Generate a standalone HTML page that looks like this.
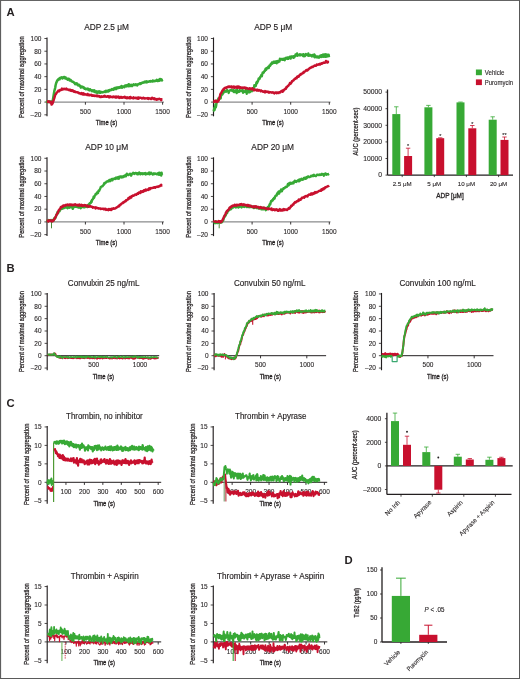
<!DOCTYPE html><html><head><meta charset="utf-8"><style>html,body{margin:0;padding:0;background:#fff;overflow:hidden}svg{display:block;will-change:transform}text{font-family:"Liberation Sans",sans-serif}</style></head><body><svg width="520" height="679" viewBox="0 0 520 679"><rect x="0" y="0" width="520" height="679" fill="#fff"/>
<rect x="0" y="0" width="520" height="1" fill="#646464"/>
<rect x="0" y="0" width="1.1" height="679" fill="#5e5e5e"/>
<rect x="519" y="0" width="1" height="679" fill="#585858"/>
<rect x="0" y="678" width="520" height="1" fill="#5a5a5a"/>
<text x="6.60" y="16.20" font-size="11.3" text-anchor="start" font-weight="bold" fill="#231f20">A</text>
<text x="6.60" y="272.40" font-size="11.3" text-anchor="start" font-weight="bold" fill="#231f20">B</text>
<text x="6.60" y="406.60" font-size="11.3" text-anchor="start" font-weight="bold" fill="#231f20">C</text>
<text x="344.60" y="564.40" font-size="11.3" text-anchor="start" font-weight="bold" fill="#231f20">D</text>
<line x1="47.00" y1="37.50" x2="47.00" y2="116.32" stroke="#231f20" stroke-width="1.15"/>
<line x1="44.40" y1="114.82" x2="47.00" y2="114.82" stroke="#231f20" stroke-width="0.8"/>
<text x="41.40" y="117.12" font-size="6.5" text-anchor="end" font-weight="normal" fill="#231f20" stroke="#231f20" stroke-width="0.1">–20</text>
<line x1="44.40" y1="102.10" x2="47.00" y2="102.10" stroke="#231f20" stroke-width="0.8"/>
<text x="41.40" y="104.40" font-size="6.5" text-anchor="end" font-weight="normal" fill="#231f20" stroke="#231f20" stroke-width="0.1">0</text>
<line x1="44.40" y1="89.38" x2="47.00" y2="89.38" stroke="#231f20" stroke-width="0.8"/>
<text x="41.40" y="91.68" font-size="6.5" text-anchor="end" font-weight="normal" fill="#231f20" stroke="#231f20" stroke-width="0.1">20</text>
<line x1="44.40" y1="76.66" x2="47.00" y2="76.66" stroke="#231f20" stroke-width="0.8"/>
<text x="41.40" y="78.96" font-size="6.5" text-anchor="end" font-weight="normal" fill="#231f20" stroke="#231f20" stroke-width="0.1">40</text>
<line x1="44.40" y1="63.94" x2="47.00" y2="63.94" stroke="#231f20" stroke-width="0.8"/>
<text x="41.40" y="66.24" font-size="6.5" text-anchor="end" font-weight="normal" fill="#231f20" stroke="#231f20" stroke-width="0.1">60</text>
<line x1="44.40" y1="51.22" x2="47.00" y2="51.22" stroke="#231f20" stroke-width="0.8"/>
<text x="41.40" y="53.52" font-size="6.5" text-anchor="end" font-weight="normal" fill="#231f20" stroke="#231f20" stroke-width="0.1">80</text>
<line x1="44.40" y1="38.50" x2="47.00" y2="38.50" stroke="#231f20" stroke-width="0.8"/>
<text x="41.40" y="40.80" font-size="6.5" text-anchor="end" font-weight="normal" fill="#231f20" stroke="#231f20" stroke-width="0.1">100</text>
<line x1="47.00" y1="102.10" x2="164.00" y2="102.10" stroke="#6d6e70" stroke-width="1.0"/>
<line x1="85.40" y1="102.10" x2="85.40" y2="104.70" stroke="#231f20" stroke-width="0.9"/>
<text x="85.40" y="113.80" font-size="6.5" text-anchor="middle" font-weight="normal" fill="#231f20" stroke="#231f20" stroke-width="0.1">500</text>
<line x1="124.00" y1="102.10" x2="124.00" y2="104.70" stroke="#231f20" stroke-width="0.9"/>
<text x="124.00" y="113.80" font-size="6.5" text-anchor="middle" font-weight="normal" fill="#231f20" stroke="#231f20" stroke-width="0.1">1000</text>
<line x1="162.60" y1="102.10" x2="162.60" y2="104.70" stroke="#231f20" stroke-width="0.9"/>
<text x="162.60" y="113.80" font-size="6.5" text-anchor="middle" font-weight="normal" fill="#231f20" stroke="#231f20" stroke-width="0.1">1500</text>
<text x="106.60" y="29.90" font-size="8.2" text-anchor="middle" font-weight="normal" fill="#231f20" stroke="#231f20" stroke-width="0.15" textLength="44.8" lengthAdjust="spacingAndGlyphs">ADP 2.5 μM</text>
<text x="24.40" y="77.16" font-size="7.2" text-anchor="middle" font-weight="normal" fill="#231f20" stroke="#231f20" stroke-width="0.28" textLength="81.5" lengthAdjust="spacingAndGlyphs" transform="rotate(-90 24.4 77.16)">Percent of maximal aggregation</text>
<text x="106.50" y="125.10" font-size="8.0" text-anchor="middle" font-weight="normal" fill="#231f20" stroke="#231f20" stroke-width="0.35" textLength="21.3" lengthAdjust="spacingAndGlyphs">Time (s)</text>
<line x1="213.50" y1="37.50" x2="213.50" y2="116.32" stroke="#231f20" stroke-width="1.15"/>
<line x1="210.90" y1="114.82" x2="213.50" y2="114.82" stroke="#231f20" stroke-width="0.8"/>
<text x="207.90" y="117.12" font-size="6.5" text-anchor="end" font-weight="normal" fill="#231f20" stroke="#231f20" stroke-width="0.1">–20</text>
<line x1="210.90" y1="102.10" x2="213.50" y2="102.10" stroke="#231f20" stroke-width="0.8"/>
<text x="207.90" y="104.40" font-size="6.5" text-anchor="end" font-weight="normal" fill="#231f20" stroke="#231f20" stroke-width="0.1">0</text>
<line x1="210.90" y1="89.38" x2="213.50" y2="89.38" stroke="#231f20" stroke-width="0.8"/>
<text x="207.90" y="91.68" font-size="6.5" text-anchor="end" font-weight="normal" fill="#231f20" stroke="#231f20" stroke-width="0.1">20</text>
<line x1="210.90" y1="76.66" x2="213.50" y2="76.66" stroke="#231f20" stroke-width="0.8"/>
<text x="207.90" y="78.96" font-size="6.5" text-anchor="end" font-weight="normal" fill="#231f20" stroke="#231f20" stroke-width="0.1">40</text>
<line x1="210.90" y1="63.94" x2="213.50" y2="63.94" stroke="#231f20" stroke-width="0.8"/>
<text x="207.90" y="66.24" font-size="6.5" text-anchor="end" font-weight="normal" fill="#231f20" stroke="#231f20" stroke-width="0.1">60</text>
<line x1="210.90" y1="51.22" x2="213.50" y2="51.22" stroke="#231f20" stroke-width="0.8"/>
<text x="207.90" y="53.52" font-size="6.5" text-anchor="end" font-weight="normal" fill="#231f20" stroke="#231f20" stroke-width="0.1">80</text>
<line x1="210.90" y1="38.50" x2="213.50" y2="38.50" stroke="#231f20" stroke-width="0.8"/>
<text x="207.90" y="40.80" font-size="6.5" text-anchor="end" font-weight="normal" fill="#231f20" stroke="#231f20" stroke-width="0.1">100</text>
<line x1="213.50" y1="102.10" x2="330.50" y2="102.10" stroke="#6d6e70" stroke-width="1.0"/>
<line x1="252.10" y1="102.10" x2="252.10" y2="104.70" stroke="#231f20" stroke-width="0.9"/>
<text x="252.10" y="113.80" font-size="6.5" text-anchor="middle" font-weight="normal" fill="#231f20" stroke="#231f20" stroke-width="0.1">500</text>
<line x1="290.70" y1="102.10" x2="290.70" y2="104.70" stroke="#231f20" stroke-width="0.9"/>
<text x="290.70" y="113.80" font-size="6.5" text-anchor="middle" font-weight="normal" fill="#231f20" stroke="#231f20" stroke-width="0.1">1000</text>
<line x1="329.30" y1="102.10" x2="329.30" y2="104.70" stroke="#231f20" stroke-width="0.9"/>
<text x="329.30" y="113.80" font-size="6.5" text-anchor="middle" font-weight="normal" fill="#231f20" stroke="#231f20" stroke-width="0.1">1500</text>
<text x="273.20" y="29.90" font-size="8.2" text-anchor="middle" font-weight="normal" fill="#231f20" stroke="#231f20" stroke-width="0.15" textLength="38.1" lengthAdjust="spacingAndGlyphs">ADP 5 μM</text>
<text x="190.90" y="77.16" font-size="7.2" text-anchor="middle" font-weight="normal" fill="#231f20" stroke="#231f20" stroke-width="0.28" textLength="81.5" lengthAdjust="spacingAndGlyphs" transform="rotate(-90 190.9 77.16)">Percent of maximal aggregation</text>
<text x="273.00" y="125.10" font-size="8.0" text-anchor="middle" font-weight="normal" fill="#231f20" stroke="#231f20" stroke-width="0.35" textLength="21.3" lengthAdjust="spacingAndGlyphs">Time (s)</text>
<line x1="47.00" y1="157.30" x2="47.00" y2="236.12" stroke="#231f20" stroke-width="1.15"/>
<line x1="44.40" y1="234.62" x2="47.00" y2="234.62" stroke="#231f20" stroke-width="0.8"/>
<text x="41.40" y="236.92" font-size="6.5" text-anchor="end" font-weight="normal" fill="#231f20" stroke="#231f20" stroke-width="0.1">–20</text>
<line x1="44.40" y1="221.90" x2="47.00" y2="221.90" stroke="#231f20" stroke-width="0.8"/>
<text x="41.40" y="224.20" font-size="6.5" text-anchor="end" font-weight="normal" fill="#231f20" stroke="#231f20" stroke-width="0.1">0</text>
<line x1="44.40" y1="209.18" x2="47.00" y2="209.18" stroke="#231f20" stroke-width="0.8"/>
<text x="41.40" y="211.48" font-size="6.5" text-anchor="end" font-weight="normal" fill="#231f20" stroke="#231f20" stroke-width="0.1">20</text>
<line x1="44.40" y1="196.46" x2="47.00" y2="196.46" stroke="#231f20" stroke-width="0.8"/>
<text x="41.40" y="198.76" font-size="6.5" text-anchor="end" font-weight="normal" fill="#231f20" stroke="#231f20" stroke-width="0.1">40</text>
<line x1="44.40" y1="183.74" x2="47.00" y2="183.74" stroke="#231f20" stroke-width="0.8"/>
<text x="41.40" y="186.04" font-size="6.5" text-anchor="end" font-weight="normal" fill="#231f20" stroke="#231f20" stroke-width="0.1">60</text>
<line x1="44.40" y1="171.02" x2="47.00" y2="171.02" stroke="#231f20" stroke-width="0.8"/>
<text x="41.40" y="173.32" font-size="6.5" text-anchor="end" font-weight="normal" fill="#231f20" stroke="#231f20" stroke-width="0.1">80</text>
<line x1="44.40" y1="158.30" x2="47.00" y2="158.30" stroke="#231f20" stroke-width="0.8"/>
<text x="41.40" y="160.60" font-size="6.5" text-anchor="end" font-weight="normal" fill="#231f20" stroke="#231f20" stroke-width="0.1">100</text>
<line x1="47.00" y1="221.90" x2="164.00" y2="221.90" stroke="#6d6e70" stroke-width="1.0"/>
<line x1="85.40" y1="221.90" x2="85.40" y2="224.50" stroke="#231f20" stroke-width="0.9"/>
<text x="85.40" y="233.60" font-size="6.5" text-anchor="middle" font-weight="normal" fill="#231f20" stroke="#231f20" stroke-width="0.1">500</text>
<line x1="124.00" y1="221.90" x2="124.00" y2="224.50" stroke="#231f20" stroke-width="0.9"/>
<text x="124.00" y="233.60" font-size="6.5" text-anchor="middle" font-weight="normal" fill="#231f20" stroke="#231f20" stroke-width="0.1">1000</text>
<line x1="162.60" y1="221.90" x2="162.60" y2="224.50" stroke="#231f20" stroke-width="0.9"/>
<text x="162.60" y="233.60" font-size="6.5" text-anchor="middle" font-weight="normal" fill="#231f20" stroke="#231f20" stroke-width="0.1">1500</text>
<text x="106.70" y="149.90" font-size="8.2" text-anchor="middle" font-weight="normal" fill="#231f20" stroke="#231f20" stroke-width="0.15" textLength="42.9" lengthAdjust="spacingAndGlyphs">ADP 10 μM</text>
<text x="24.40" y="196.96" font-size="7.2" text-anchor="middle" font-weight="normal" fill="#231f20" stroke="#231f20" stroke-width="0.28" textLength="81.5" lengthAdjust="spacingAndGlyphs" transform="rotate(-90 24.4 196.96)">Percent of maximal aggregation</text>
<text x="106.50" y="244.90" font-size="8.0" text-anchor="middle" font-weight="normal" fill="#231f20" stroke="#231f20" stroke-width="0.35" textLength="21.3" lengthAdjust="spacingAndGlyphs">Time (s)</text>
<line x1="213.50" y1="157.30" x2="213.50" y2="236.12" stroke="#231f20" stroke-width="1.15"/>
<line x1="210.90" y1="234.62" x2="213.50" y2="234.62" stroke="#231f20" stroke-width="0.8"/>
<text x="207.90" y="236.92" font-size="6.5" text-anchor="end" font-weight="normal" fill="#231f20" stroke="#231f20" stroke-width="0.1">–20</text>
<line x1="210.90" y1="221.90" x2="213.50" y2="221.90" stroke="#231f20" stroke-width="0.8"/>
<text x="207.90" y="224.20" font-size="6.5" text-anchor="end" font-weight="normal" fill="#231f20" stroke="#231f20" stroke-width="0.1">0</text>
<line x1="210.90" y1="209.18" x2="213.50" y2="209.18" stroke="#231f20" stroke-width="0.8"/>
<text x="207.90" y="211.48" font-size="6.5" text-anchor="end" font-weight="normal" fill="#231f20" stroke="#231f20" stroke-width="0.1">20</text>
<line x1="210.90" y1="196.46" x2="213.50" y2="196.46" stroke="#231f20" stroke-width="0.8"/>
<text x="207.90" y="198.76" font-size="6.5" text-anchor="end" font-weight="normal" fill="#231f20" stroke="#231f20" stroke-width="0.1">40</text>
<line x1="210.90" y1="183.74" x2="213.50" y2="183.74" stroke="#231f20" stroke-width="0.8"/>
<text x="207.90" y="186.04" font-size="6.5" text-anchor="end" font-weight="normal" fill="#231f20" stroke="#231f20" stroke-width="0.1">60</text>
<line x1="210.90" y1="171.02" x2="213.50" y2="171.02" stroke="#231f20" stroke-width="0.8"/>
<text x="207.90" y="173.32" font-size="6.5" text-anchor="end" font-weight="normal" fill="#231f20" stroke="#231f20" stroke-width="0.1">80</text>
<line x1="210.90" y1="158.30" x2="213.50" y2="158.30" stroke="#231f20" stroke-width="0.8"/>
<text x="207.90" y="160.60" font-size="6.5" text-anchor="end" font-weight="normal" fill="#231f20" stroke="#231f20" stroke-width="0.1">100</text>
<line x1="213.50" y1="221.90" x2="330.50" y2="221.90" stroke="#6d6e70" stroke-width="1.0"/>
<line x1="252.10" y1="221.90" x2="252.10" y2="224.50" stroke="#231f20" stroke-width="0.9"/>
<text x="252.10" y="233.60" font-size="6.5" text-anchor="middle" font-weight="normal" fill="#231f20" stroke="#231f20" stroke-width="0.1">500</text>
<line x1="290.70" y1="221.90" x2="290.70" y2="224.50" stroke="#231f20" stroke-width="0.9"/>
<text x="290.70" y="233.60" font-size="6.5" text-anchor="middle" font-weight="normal" fill="#231f20" stroke="#231f20" stroke-width="0.1">1000</text>
<line x1="329.30" y1="221.90" x2="329.30" y2="224.50" stroke="#231f20" stroke-width="0.9"/>
<text x="329.30" y="233.60" font-size="6.5" text-anchor="middle" font-weight="normal" fill="#231f20" stroke="#231f20" stroke-width="0.1">1500</text>
<text x="272.70" y="149.90" font-size="8.2" text-anchor="middle" font-weight="normal" fill="#231f20" stroke="#231f20" stroke-width="0.15" textLength="42.7" lengthAdjust="spacingAndGlyphs">ADP 20 μM</text>
<text x="190.90" y="196.96" font-size="7.2" text-anchor="middle" font-weight="normal" fill="#231f20" stroke="#231f20" stroke-width="0.28" textLength="81.5" lengthAdjust="spacingAndGlyphs" transform="rotate(-90 190.9 196.96)">Percent of maximal aggregation</text>
<text x="273.00" y="244.90" font-size="8.0" text-anchor="middle" font-weight="normal" fill="#231f20" stroke="#231f20" stroke-width="0.35" textLength="21.3" lengthAdjust="spacingAndGlyphs">Time (s)</text>
<polyline points="46.8,100.6 47.2,102.2 47.6,102.0 48.0,102.0 48.4,102.0 48.8,101.7 49.2,101.6 49.6,101.4 50.0,101.5 50.4,101.6 50.8,102.3 51.2,101.8 51.6,101.6 52.0,101.4 52.4,100.9 52.8,100.5 53.2,97.9 53.6,95.5 54.0,92.9 54.4,90.7 54.8,89.3 55.2,87.8 55.6,85.3 56.0,83.7 56.4,82.3 56.8,81.8 57.2,80.4 57.6,80.4 58.0,79.5 58.4,79.8 58.8,78.7 59.2,79.1 59.6,79.2 60.0,78.1 60.4,77.8 60.8,78.0 61.2,77.8 61.6,77.3 62.0,77.8 62.4,78.5 62.8,77.4 63.2,77.5 63.6,77.1 64.0,77.6 64.4,77.0 64.8,77.1 65.2,78.4 65.6,77.5 66.0,78.5 66.4,78.8 66.8,78.5 67.2,78.9 67.6,79.7 68.0,78.8 68.4,78.8 68.8,78.7 69.2,79.6 69.6,80.4 70.0,80.4 70.4,79.8 70.8,80.2 71.2,80.6 71.6,81.3 72.0,81.3 72.4,81.8 72.8,81.9 73.2,81.8 73.6,82.2 74.0,82.7 74.4,82.8 74.8,83.4 75.2,84.2 75.6,83.9 76.0,83.8 76.4,83.2 76.8,84.3 77.2,83.6 77.6,84.2 78.0,85.3 78.4,85.5 78.8,85.3 79.2,84.9 79.6,85.7 80.0,85.8 80.4,86.6 80.8,87.6 81.2,86.9 81.6,86.5 82.0,86.5 82.4,87.2 82.8,87.3 83.2,87.1 83.6,87.8 84.0,87.5 84.4,88.6 84.8,88.8 85.2,89.0 85.6,88.6 86.0,89.2 86.4,89.1 86.8,89.0 87.2,89.1 87.6,88.6 88.0,88.7 88.4,89.9 88.8,89.7 89.2,89.9 89.6,90.3 90.0,89.2 90.4,89.8 90.8,90.3 91.2,90.5 91.6,90.3 92.0,91.1 92.4,90.9 92.8,90.3 93.2,90.6 93.6,91.4 94.0,91.3 94.4,90.3 94.8,91.9 95.2,91.7 95.6,92.2 96.0,91.6 96.4,91.6 96.8,91.4 97.2,93.0 97.6,92.0 98.0,92.7 98.4,91.9 98.8,92.2 99.2,91.4 99.6,92.1 100.0,92.8 100.4,91.7 100.8,92.7 101.2,92.5 101.6,92.0 102.0,92.3 102.4,92.2 102.8,92.4 103.2,92.0 103.6,91.9 104.0,92.1 104.4,91.8 104.8,91.4 105.2,91.9 105.6,92.0 106.0,90.9 106.4,91.5 106.8,91.1 107.2,90.9 107.6,91.5 108.0,90.7 108.4,91.5 108.8,90.4 109.2,90.8 109.6,90.2 110.0,89.8 110.4,90.3 110.8,89.9 111.2,90.0 111.6,89.6 112.0,89.0 112.4,89.5 112.8,89.4 113.2,89.7 113.6,88.7 114.0,88.9 114.4,88.1 114.8,89.1 115.2,88.2 115.6,87.7 116.0,88.5 116.4,89.0 116.8,87.6 117.2,87.6 117.6,87.6 118.0,87.4 118.4,88.0 118.8,87.4 119.2,87.3 119.6,87.8 120.0,87.0 120.4,87.5 120.8,86.7 121.2,86.4 121.6,86.0 122.0,87.7 122.4,86.8 122.8,86.9 123.2,86.6 123.6,86.5 124.0,86.4 124.4,87.2 124.8,85.7 125.2,85.4 125.6,85.6 126.0,85.4 126.4,86.4 126.8,86.3 127.2,85.5 127.6,85.1 128.0,85.4 128.4,86.1 128.8,84.3 129.2,85.9 129.6,85.2 130.0,86.1 130.4,85.0 130.8,85.3 131.2,84.7 131.6,85.1 132.0,86.1 132.4,85.7 132.8,85.0 133.2,84.8 133.6,84.3 134.0,85.0 134.4,85.1 134.8,85.0 135.2,85.0 135.6,84.4 136.0,84.8 136.4,84.6 136.8,85.2 137.2,85.4 137.6,84.5 138.0,84.2 138.4,84.3 138.8,84.0 139.2,83.7 139.6,83.9 140.0,83.2 140.4,83.9 140.8,83.4 141.2,83.5 141.6,83.1 142.0,82.8 142.4,82.6 142.8,82.8 143.2,82.4 143.6,82.6 144.0,82.5 144.4,81.7 144.8,82.3 145.2,81.7 145.6,82.1 146.0,82.2 146.4,81.4 146.8,82.4 147.2,82.1 147.6,81.8 148.0,81.6 148.4,81.7 148.8,81.4 149.2,81.6 149.6,81.3 150.0,81.6 150.4,81.0 150.8,81.5 151.2,81.4 151.6,81.2 152.0,81.1 152.4,81.5 152.8,80.5 153.2,81.3 153.6,81.2 154.0,81.2 154.4,81.2 154.8,80.7 155.2,80.7 155.6,81.0 156.0,80.8 156.4,80.7 156.8,79.9 157.2,80.9 157.6,81.1 158.0,81.0 158.4,80.5 158.8,79.7 159.2,80.8 159.6,80.2 160.0,79.0 160.4,80.2 160.8,79.3 161.2,79.3 161.6,79.6 162.0,80.4 162.4,79.7" fill="none" stroke="#37a935" stroke-width="2.5" stroke-linejoin="round" opacity="1.0"/>
<polyline points="46.8,101.5 47.2,101.5 47.6,101.9 48.0,101.6 48.4,101.9 48.8,101.3 49.2,102.0 49.6,102.3 50.0,101.8 50.4,101.6 50.8,101.6 51.2,103.1 51.6,104.6 52.0,104.3 52.4,103.7 52.8,102.9 53.2,101.4 53.6,100.5 54.0,99.0 54.4,97.8 54.8,96.4 55.2,94.9 55.6,94.4 56.0,94.1 56.4,92.9 56.8,92.6 57.2,92.4 57.6,91.4 58.0,91.5 58.4,90.6 58.8,91.0 59.2,91.2 59.6,90.9 60.0,89.9 60.4,90.2 60.8,89.8 61.2,89.6 61.6,89.9 62.0,88.6 62.4,89.4 62.8,88.9 63.2,89.4 63.6,89.0 64.0,88.7 64.4,89.1 64.8,89.3 65.2,89.0 65.6,89.2 66.0,88.9 66.4,88.5 66.8,89.6 67.2,89.6 67.6,89.4 68.0,89.6 68.4,90.0 68.8,89.7 69.2,89.6 69.6,89.8 70.0,90.4 70.4,89.7 70.8,90.7 71.2,90.2 71.6,90.2 72.0,91.1 72.4,90.7 72.8,90.3 73.2,90.9 73.6,91.4 74.0,91.7 74.4,91.2 74.8,91.7 75.2,92.0 75.6,91.7 76.0,92.2 76.4,92.1 76.8,92.1 77.2,92.2 77.6,92.6 78.0,92.7 78.4,92.5 78.8,92.7 79.2,93.4 79.6,93.1 80.0,93.3 80.4,93.4 80.8,93.4 81.2,94.1 81.6,93.1 82.0,93.8 82.4,93.6 82.8,94.5 83.2,94.5 83.6,93.3 84.0,93.8 84.4,94.5 84.8,94.6 85.2,94.6 85.6,94.3 86.0,94.6 86.4,94.7 86.8,94.5 87.2,95.0 87.6,93.9 88.0,95.0 88.4,94.6 88.8,95.2 89.2,94.9 89.6,94.7 90.0,95.3 90.4,94.9 90.8,94.9 91.2,94.7 91.6,95.4 92.0,95.7 92.4,95.7 92.8,95.3 93.2,95.7 93.6,95.5 94.0,95.5 94.4,95.8 94.8,96.1 95.2,95.7 95.6,95.7 96.0,95.7 96.4,96.0 96.8,95.6 97.2,96.3 97.6,95.8 98.0,96.2 98.4,95.9 98.8,96.4 99.2,96.5 99.6,96.1 100.0,97.0 100.4,96.5 100.8,97.1 101.2,96.9 101.6,96.3 102.0,96.4 102.4,96.8 102.8,96.6 103.2,96.8 103.6,96.6 104.0,96.0 104.4,96.5 104.8,95.7 105.2,96.7 105.6,96.4 106.0,96.6 106.4,96.8 106.8,96.9 107.2,96.3 107.6,96.2 108.0,96.5 108.4,96.2 108.8,96.5 109.2,97.4 109.6,96.4 110.0,97.1 110.4,96.4 110.8,97.0 111.2,96.8 111.6,96.9 112.0,97.1 112.4,97.3 112.8,96.7 113.2,96.8 113.6,96.5 114.0,97.1 114.4,96.8 114.8,97.2 115.2,97.0 115.6,97.6 116.0,96.4 116.4,97.0 116.8,97.5 117.2,97.1 117.6,96.8 118.0,97.0 118.4,96.6 118.8,97.2 119.2,98.0 119.6,97.7 120.0,96.9 120.4,97.0 120.8,97.2 121.2,97.7 121.6,97.0 122.0,97.1 122.4,97.7 122.8,97.8 123.2,97.3 123.6,97.2 124.0,97.0 124.4,97.4 124.8,96.8 125.2,97.8 125.6,97.3 126.0,97.8 126.4,98.3 126.8,98.1 127.2,97.3 127.6,98.0 128.0,98.2 128.4,97.6 128.8,97.6 129.2,97.9 129.6,97.3 130.0,98.4 130.4,97.0 130.8,97.3 131.2,97.7 131.6,97.8 132.0,98.1 132.4,98.1 132.8,98.0 133.2,98.4 133.6,97.3 134.0,98.1 134.4,97.8 134.8,98.1 135.2,98.0 135.6,97.7 136.0,97.7 136.4,98.3 136.8,98.1 137.2,97.7 137.6,98.7 138.0,98.8 138.4,97.4 138.8,97.8 139.2,98.3 139.6,97.7 140.0,97.7 140.4,97.7 140.8,97.8 141.2,98.0 141.6,98.0 142.0,98.5 142.4,98.1 142.8,98.1 143.2,97.8 143.6,98.3 144.0,97.9 144.4,98.2 144.8,98.6 145.2,98.4 145.6,98.3 146.0,98.3 146.4,98.3 146.8,98.4 147.2,98.3 147.6,98.7 148.0,98.0 148.4,98.9 148.8,98.5 149.2,98.2 149.6,98.4 150.0,98.4 150.4,98.7 150.8,98.4 151.2,99.0 151.6,98.3 152.0,97.8 152.4,98.4 152.8,98.0 153.2,98.6 153.6,99.0 154.0,98.9 154.4,98.3 154.8,98.5 155.2,99.5 155.6,99.1 156.0,98.9 156.4,99.2 156.8,99.7 157.2,99.4 157.6,99.0 158.0,99.2 158.4,99.3 158.8,98.8 159.2,98.7 159.6,99.1 160.0,98.9 160.4,99.3 160.8,99.3 161.2,100.2 161.6,99.2 162.0,99.5 162.4,99.5" fill="none" stroke="#c8102e" stroke-width="2.4" stroke-linejoin="round" opacity="1.0"/>
<polyline points="213.5,109.3 213.9,110.6 214.3,107.7 214.7,109.9 215.1,107.2 215.5,104.1 215.9,107.3 216.3,105.1 216.7,101.8 217.1,101.9 217.5,100.8 217.9,100.4 218.3,98.4 218.7,98.7 219.1,99.2 219.5,98.3 219.9,98.6 220.3,97.1 220.7,98.5 221.1,95.1 221.5,95.4 221.9,92.9 222.3,92.8 222.7,94.4 223.1,92.1 223.5,93.0 223.9,92.3 224.3,91.2 224.7,91.6 225.1,91.1 225.5,90.9 225.9,91.9 226.3,91.6 226.7,90.5 227.1,90.0 227.5,90.9 227.9,90.6 228.3,91.6 228.7,93.0 229.1,91.5 229.5,90.7 229.9,90.7 230.3,90.0 230.7,90.1 231.1,90.0 231.5,90.5 231.9,90.2 232.3,91.1 232.7,90.1 233.1,90.3 233.5,89.6 233.9,92.0 234.3,91.0 234.7,92.0 235.1,91.0 235.5,91.6 235.9,90.3 236.3,91.3 236.7,93.2 237.1,89.8 237.5,91.7 237.9,92.1 238.3,91.1 238.7,91.5 239.1,91.9 239.5,90.2 239.9,91.3 240.3,90.4 240.7,90.5 241.1,90.5 241.5,90.9 241.9,91.1 242.3,91.4 242.7,89.8 243.1,92.8 243.5,92.3 243.9,92.1 244.3,91.2 244.7,91.4 245.1,91.8 245.5,91.7 245.9,89.9 246.3,92.0 246.7,93.8 247.1,89.5 247.5,92.0 247.9,91.4 248.3,90.9 248.7,92.4 249.1,90.2 249.5,91.4 249.9,92.3 250.3,90.7 250.7,90.3 251.1,90.6 251.5,89.9 251.9,91.3 252.3,88.9 252.7,90.1 253.1,88.0 253.5,89.2 253.9,88.0 254.3,85.2 254.7,86.8 255.1,85.2 255.5,85.0 255.9,85.9 256.3,82.7 256.7,81.9 257.1,83.4 257.5,81.2 257.9,81.7 258.3,79.9 258.7,78.4 259.1,78.5 259.5,79.0 259.9,78.1 260.3,76.6 260.7,76.1 261.1,75.5 261.5,74.7 261.9,76.3 262.3,74.0 262.7,72.4 263.1,72.4 263.5,72.9 263.9,72.3 264.3,71.2 264.7,70.4 265.1,70.7 265.5,68.8 265.9,68.4 266.3,69.8 266.7,68.0 267.1,68.3 267.5,68.4 267.9,67.5 268.3,66.6 268.7,68.2 269.1,66.7 269.5,65.4 269.9,66.1 270.3,65.5 270.7,64.0 271.1,64.6 271.5,64.1 271.9,62.5 272.3,63.7 272.7,63.4 273.1,63.0 273.5,61.7 273.9,62.8 274.3,62.8 274.7,62.9 275.1,61.5 275.5,62.9 275.9,61.3 276.3,62.1 276.7,63.3 277.1,61.1 277.5,61.0 277.9,62.3 278.3,61.1 278.7,60.9 279.1,61.1 279.5,61.6 279.9,58.7 280.3,60.0 280.7,59.6 281.1,59.2 281.5,59.1 281.9,58.9 282.3,59.9 282.7,58.9 283.1,59.6 283.5,59.8 283.9,58.6 284.3,59.3 284.7,60.3 285.1,59.0 285.5,58.0 285.9,58.5 286.3,57.7 286.7,58.6 287.1,59.0 287.5,57.4 287.9,57.9 288.3,58.9 288.7,57.4 289.1,57.9 289.5,56.8 289.9,56.7 290.3,56.8 290.7,58.7 291.1,56.5 291.5,56.3 291.9,56.3 292.3,56.4 292.7,57.0 293.1,56.4 293.5,57.9 293.9,56.2 294.3,57.4 294.7,56.2 295.1,56.3 295.5,54.4 295.9,55.5 296.3,55.5 296.7,55.1 297.1,53.3 297.5,55.9 297.9,54.7 298.3,54.7 298.7,54.9 299.1,55.0 299.5,55.4 299.9,54.1 300.3,54.5 300.7,55.4 301.1,55.1 301.5,54.8 301.9,54.5 302.3,54.5 302.7,54.9 303.1,56.1 303.5,54.1 303.9,56.4 304.3,56.0 304.7,55.0 305.1,56.1 305.5,54.3 305.9,54.0 306.3,54.3 306.7,54.8 307.1,55.1 307.5,55.0 307.9,55.5 308.3,53.5 308.7,55.9 309.1,54.5 309.5,55.3 309.9,55.7 310.3,55.1 310.7,54.9 311.1,55.2 311.5,56.0 311.9,56.5 312.3,56.3 312.7,54.9 313.1,55.1 313.5,55.1 313.9,56.5 314.3,54.4 314.7,57.3 315.1,55.9 315.5,55.6 315.9,56.8 316.3,57.3 316.7,56.6 317.1,57.2 317.5,56.4 317.9,57.6 318.3,57.6 318.7,56.6 319.1,57.7 319.5,56.4 319.9,56.2 320.3,55.5 320.7,56.1 321.1,57.1 321.5,55.2 321.9,56.9 322.3,56.5 322.7,56.5 323.1,54.4 323.5,56.2 323.9,56.9 324.3,55.7 324.7,56.5 325.1,54.2 325.5,56.8 325.9,55.5 326.3,56.7 326.7,54.3 327.1,56.5 327.5,55.8 327.9,56.4 328.3,54.7 328.7,54.7 329.1,57.2" fill="none" stroke="#37a935" stroke-width="2.3" stroke-linejoin="round" opacity="1.0"/>
<polyline points="213.5,101.7 213.9,101.9 214.3,101.0 214.7,100.9 215.1,101.4 215.5,101.0 215.9,100.5 216.3,101.7 216.7,101.4 217.1,101.0 217.5,101.9 217.9,101.3 218.3,101.0 218.7,100.6 219.1,98.9 219.5,97.3 219.9,96.1 220.3,94.3 220.7,93.5 221.1,93.4 221.5,92.4 221.9,91.5 222.3,90.7 222.7,90.1 223.1,90.0 223.5,89.0 223.9,89.4 224.3,88.2 224.7,88.2 225.1,87.6 225.5,87.7 225.9,87.9 226.3,88.1 226.7,87.2 227.1,87.3 227.5,87.0 227.9,86.7 228.3,86.6 228.7,87.1 229.1,86.4 229.5,87.0 229.9,86.9 230.3,86.7 230.7,86.6 231.1,86.5 231.5,87.6 231.9,86.6 232.3,87.6 232.7,87.2 233.1,86.8 233.5,86.6 233.9,87.4 234.3,87.7 234.7,86.7 235.1,86.8 235.5,87.4 235.9,87.1 236.3,87.7 236.7,86.8 237.1,87.2 237.5,86.6 237.9,87.8 238.3,86.8 238.7,86.4 239.1,87.1 239.5,87.2 239.9,87.9 240.3,87.2 240.7,87.3 241.1,87.7 241.5,88.0 241.9,87.5 242.3,88.0 242.7,87.8 243.1,87.5 243.5,87.7 243.9,87.7 244.3,87.4 244.7,88.3 245.1,87.5 245.5,88.5 245.9,88.4 246.3,88.1 246.7,87.9 247.1,88.2 247.5,88.5 247.9,88.7 248.3,88.6 248.7,88.9 249.1,88.5 249.5,88.8 249.9,88.3 250.3,89.1 250.7,88.9 251.1,88.8 251.5,89.4 251.9,89.4 252.3,88.2 252.7,89.3 253.1,88.9 253.5,89.8 253.9,90.4 254.3,89.4 254.7,89.6 255.1,89.5 255.5,89.7 255.9,90.0 256.3,90.4 256.7,89.7 257.1,90.6 257.5,89.7 257.9,90.3 258.3,90.7 258.7,90.6 259.1,90.1 259.5,90.3 259.9,90.5 260.3,90.7 260.7,91.2 261.1,90.4 261.5,91.1 261.9,91.2 262.3,91.3 262.7,91.3 263.1,91.8 263.5,91.5 263.9,91.7 264.3,91.7 264.7,92.2 265.1,91.1 265.5,92.3 265.9,91.7 266.3,91.7 266.7,91.5 267.1,91.4 267.5,91.9 267.9,91.9 268.3,92.3 268.7,91.7 269.1,92.7 269.5,92.5 269.9,92.3 270.3,92.3 270.7,92.3 271.1,92.3 271.5,92.5 271.9,92.7 272.3,92.6 272.7,92.3 273.1,92.7 273.5,92.5 273.9,92.8 274.3,93.5 274.7,93.1 275.1,92.8 275.5,92.4 275.9,92.5 276.3,92.4 276.7,93.2 277.1,92.6 277.5,92.9 277.9,92.5 278.3,92.8 278.7,93.1 279.1,92.3 279.5,92.3 279.9,92.0 280.3,92.4 280.7,91.6 281.1,91.4 281.5,91.0 281.9,90.8 282.3,91.2 282.7,91.8 283.1,90.3 283.5,90.8 283.9,90.2 284.3,89.5 284.7,89.4 285.1,89.0 285.5,88.4 285.9,88.9 286.3,87.2 286.7,87.5 287.1,87.1 287.5,86.2 287.9,86.1 288.3,85.8 288.7,85.1 289.1,84.7 289.5,84.3 289.9,83.0 290.3,83.9 290.7,83.7 291.1,82.9 291.5,82.5 291.9,81.3 292.3,81.4 292.7,80.8 293.1,80.5 293.5,80.6 293.9,79.7 294.3,79.6 294.7,78.7 295.1,78.9 295.5,78.7 295.9,78.0 296.3,77.7 296.7,78.2 297.1,76.8 297.5,76.5 297.9,76.3 298.3,76.7 298.7,76.7 299.1,75.8 299.5,75.1 299.9,74.8 300.3,75.0 300.7,74.0 301.1,74.5 301.5,74.3 301.9,73.5 302.3,73.3 302.7,73.1 303.1,73.2 303.5,72.1 303.9,72.6 304.3,71.8 304.7,71.4 305.1,71.5 305.5,71.1 305.9,70.5 306.3,70.0 306.7,70.0 307.1,70.6 307.5,70.4 307.9,69.7 308.3,69.7 308.7,68.9 309.1,68.7 309.5,68.6 309.9,67.9 310.3,67.8 310.7,67.9 311.1,67.5 311.5,66.9 311.9,67.2 312.3,66.8 312.7,67.1 313.1,66.7 313.5,66.3 313.9,66.3 314.3,65.8 314.7,65.5 315.1,65.5 315.5,65.9 315.9,65.7 316.3,65.7 316.7,64.6 317.1,64.9 317.5,64.7 317.9,64.7 318.3,64.4 318.7,64.2 319.1,64.5 319.5,64.2 319.9,63.7 320.3,64.4 320.7,64.1 321.1,63.5 321.5,63.8 321.9,63.2 322.3,63.6 322.7,63.0 323.1,62.8 323.5,62.8 323.9,62.5 324.3,62.7 324.7,62.7 325.1,62.7 325.5,62.3 325.9,61.0 326.3,62.2 326.7,61.4 327.1,62.2 327.5,62.5 327.9,62.2 328.3,61.8 328.7,61.9 329.1,61.9" fill="none" stroke="#c8102e" stroke-width="2.4" stroke-linejoin="round" opacity="1.0"/>
<polyline points="46.8,221.2 47.2,220.7 47.6,221.1 48.0,220.9 48.4,221.2 48.8,220.1 49.2,220.9 49.6,220.8 50.0,220.2 50.4,220.9 50.8,220.8 51.2,220.6 51.6,221.2 52.0,220.1 52.4,220.8 52.8,221.0 53.2,220.9 53.6,220.7 54.0,218.7 54.4,218.0 54.8,218.2 55.2,217.7 55.6,217.7 56.0,216.2 56.4,214.6 56.8,214.8 57.2,213.1 57.6,211.9 58.0,213.4 58.4,211.7 58.8,211.5 59.2,211.0 59.6,211.2 60.0,209.8 60.4,209.8 60.8,207.9 61.2,207.4 61.6,208.8 62.0,208.9 62.4,208.5 62.8,208.3 63.2,208.1 63.6,207.2 64.0,208.2 64.4,207.6 64.8,207.5 65.2,207.4 65.6,207.6 66.0,207.4 66.4,207.6 66.8,206.7 67.2,207.4 67.6,208.2 68.0,206.6 68.4,207.0 68.8,207.6 69.2,207.7 69.6,207.4 70.0,206.2 70.4,207.3 70.8,206.4 71.2,206.5 71.6,207.3 72.0,206.8 72.4,207.5 72.8,208.8 73.2,207.4 73.6,207.4 74.0,206.5 74.4,206.7 74.8,206.5 75.2,206.8 75.6,206.5 76.0,206.6 76.4,206.9 76.8,206.5 77.2,206.3 77.6,206.4 78.0,207.4 78.4,207.2 78.8,207.6 79.2,207.5 79.6,206.7 80.0,207.3 80.4,206.1 80.8,208.2 81.2,207.6 81.6,206.7 82.0,206.2 82.4,207.0 82.8,205.9 83.2,206.5 83.6,207.2 84.0,206.8 84.4,206.5 84.8,207.2 85.2,205.9 85.6,206.6 86.0,206.1 86.4,205.9 86.8,206.6 87.2,205.6 87.6,207.1 88.0,205.2 88.4,206.4 88.8,204.3 89.2,205.0 89.6,203.5 90.0,202.9 90.4,203.1 90.8,202.9 91.2,201.2 91.6,201.9 92.0,199.9 92.4,199.7 92.8,199.2 93.2,198.7 93.6,196.8 94.0,197.9 94.4,196.8 94.8,195.7 95.2,195.0 95.6,194.1 96.0,193.7 96.4,194.2 96.8,193.2 97.2,192.4 97.6,192.2 98.0,192.9 98.4,191.1 98.8,190.4 99.2,190.9 99.6,189.8 100.0,189.0 100.4,188.0 100.8,186.9 101.2,186.6 101.6,186.6 102.0,186.3 102.4,186.3 102.8,185.9 103.2,185.3 103.6,185.0 104.0,184.0 104.4,183.0 104.8,183.6 105.2,182.9 105.6,182.7 106.0,182.6 106.4,181.7 106.8,181.4 107.2,181.5 107.6,181.6 108.0,180.9 108.4,181.4 108.8,180.7 109.2,180.1 109.6,180.4 110.0,181.2 110.4,179.6 110.8,180.5 111.2,180.4 111.6,180.4 112.0,178.9 112.4,180.3 112.8,179.1 113.2,178.9 113.6,178.8 114.0,179.0 114.4,178.6 114.8,178.3 115.2,179.0 115.6,177.9 116.0,177.5 116.4,178.5 116.8,178.5 117.2,178.6 117.6,177.3 118.0,178.4 118.4,178.0 118.8,178.7 119.2,176.7 119.6,177.4 120.0,177.1 120.4,176.4 120.8,176.8 121.2,177.5 121.6,176.6 122.0,176.5 122.4,177.4 122.8,177.3 123.2,177.0 123.6,176.1 124.0,176.3 124.4,176.6 124.8,175.6 125.2,175.3 125.6,176.2 126.0,176.2 126.4,174.6 126.8,173.7 127.2,174.3 127.6,174.4 128.0,174.8 128.4,175.1 128.8,174.6 129.2,174.3 129.6,174.6 130.0,173.8 130.4,174.2 130.8,173.9 131.2,175.7 131.6,174.6 132.0,173.7 132.4,173.5 132.8,173.6 133.2,172.8 133.6,173.2 134.0,173.1 134.4,174.0 134.8,173.3 135.2,173.1 135.6,173.0 136.0,172.9 136.4,173.5 136.8,173.3 137.2,174.3 137.6,173.3 138.0,174.3 138.4,173.7 138.8,173.6 139.2,172.5 139.6,172.9 140.0,173.9 140.4,174.3 140.8,173.6 141.2,174.0 141.6,173.3 142.0,173.4 142.4,173.3 142.8,174.2 143.2,173.9 143.6,173.4 144.0,173.2 144.4,173.7 144.8,173.5 145.2,173.0 145.6,174.4 146.0,173.6 146.4,173.5 146.8,174.1 147.2,173.9 147.6,173.4 148.0,173.8 148.4,173.0 148.8,173.2 149.2,172.6 149.6,174.4 150.0,172.6 150.4,173.8 150.8,172.9 151.2,172.8 151.6,173.3 152.0,173.6 152.4,174.0 152.8,174.6 153.2,173.9 153.6,174.1 154.0,173.3 154.4,174.1 154.8,173.9 155.2,173.5 155.6,173.8 156.0,173.8 156.4,174.0 156.8,174.3 157.2,173.6 157.6,173.5 158.0,174.3 158.4,173.0 158.8,173.5 159.2,174.8 159.6,172.6 160.0,173.8 160.4,174.4 160.8,173.2 161.2,175.6 161.6,172.8 162.0,174.9 162.4,174.9" fill="none" stroke="#37a935" stroke-width="2.4" stroke-linejoin="round" opacity="1.0"/>
<polyline points="51.5,221.3 51.5,228.3" fill="none" stroke="#4a8a3a" stroke-width="1.0" stroke-linejoin="round" opacity="1.0"/>
<polyline points="46.8,220.8 47.2,220.9 47.6,220.4 48.0,220.8 48.4,221.6 48.8,220.6 49.2,220.6 49.6,220.4 50.0,220.1 50.4,221.1 50.8,220.7 51.2,220.7 51.6,221.3 52.0,221.5 52.4,220.4 52.8,221.1 53.2,220.8 53.6,220.3 54.0,219.8 54.4,218.9 54.8,218.8 55.2,217.5 55.6,216.7 56.0,216.1 56.4,215.2 56.8,214.3 57.2,213.6 57.6,213.3 58.0,212.1 58.4,211.1 58.8,210.2 59.2,209.8 59.6,209.1 60.0,209.0 60.4,208.5 60.8,207.1 61.2,207.3 61.6,207.2 62.0,206.8 62.4,206.1 62.8,206.7 63.2,205.8 63.6,205.4 64.0,205.3 64.4,205.6 64.8,205.8 65.2,205.9 65.6,205.4 66.0,204.8 66.4,204.9 66.8,204.8 67.2,205.0 67.6,204.4 68.0,205.0 68.4,205.3 68.8,205.0 69.2,205.2 69.6,204.6 70.0,204.4 70.4,204.6 70.8,205.2 71.2,205.1 71.6,204.6 72.0,205.2 72.4,204.7 72.8,205.3 73.2,204.9 73.6,204.7 74.0,205.1 74.4,204.6 74.8,204.4 75.2,204.3 75.6,205.0 76.0,205.0 76.4,204.9 76.8,204.8 77.2,205.4 77.6,204.9 78.0,204.8 78.4,205.5 78.8,205.7 79.2,205.4 79.6,204.6 80.0,205.0 80.4,205.3 80.8,205.2 81.2,205.7 81.6,204.8 82.0,205.5 82.4,205.2 82.8,205.9 83.2,205.4 83.6,205.8 84.0,205.2 84.4,205.0 84.8,205.2 85.2,205.3 85.6,205.2 86.0,206.1 86.4,206.4 86.8,206.0 87.2,205.5 87.6,206.0 88.0,205.9 88.4,206.8 88.8,206.5 89.2,206.7 89.6,206.5 90.0,205.9 90.4,206.4 90.8,206.3 91.2,206.9 91.6,206.9 92.0,206.7 92.4,207.0 92.8,207.8 93.2,207.1 93.6,207.2 94.0,207.4 94.4,207.4 94.8,207.5 95.2,207.9 95.6,208.4 96.0,207.3 96.4,208.0 96.8,208.0 97.2,207.9 97.6,208.0 98.0,208.1 98.4,208.6 98.8,208.2 99.2,208.4 99.6,208.6 100.0,208.6 100.4,208.5 100.8,209.0 101.2,208.7 101.6,208.8 102.0,208.9 102.4,208.6 102.8,208.7 103.2,208.7 103.6,209.2 104.0,208.9 104.4,208.8 104.8,209.3 105.2,209.5 105.6,208.8 106.0,209.9 106.4,209.4 106.8,209.4 107.2,209.8 107.6,209.5 108.0,209.3 108.4,210.2 108.8,209.1 109.2,209.4 109.6,209.8 110.0,209.1 110.4,209.4 110.8,209.5 111.2,210.1 111.6,208.7 112.0,209.0 112.4,209.1 112.8,208.9 113.2,208.3 113.6,208.7 114.0,208.5 114.4,208.5 114.8,208.7 115.2,208.5 115.6,208.1 116.0,208.0 116.4,207.4 116.8,207.5 117.2,207.3 117.6,206.8 118.0,206.7 118.4,206.1 118.8,206.5 119.2,206.3 119.6,205.1 120.0,205.0 120.4,204.4 120.8,204.5 121.2,203.9 121.6,203.5 122.0,203.3 122.4,203.3 122.8,202.6 123.2,202.9 123.6,201.9 124.0,202.2 124.4,201.7 124.8,201.8 125.2,201.0 125.6,201.3 126.0,200.3 126.4,200.6 126.8,199.9 127.2,199.8 127.6,199.5 128.0,199.5 128.4,198.1 128.8,198.6 129.2,197.7 129.6,198.4 130.0,197.0 130.4,197.2 130.8,196.8 131.2,197.6 131.6,196.3 132.0,196.4 132.4,196.0 132.8,195.4 133.2,195.7 133.6,195.8 134.0,195.3 134.4,195.4 134.8,194.7 135.2,194.6 135.6,194.4 136.0,194.5 136.4,194.8 136.8,194.0 137.2,193.7 137.6,193.3 138.0,193.1 138.4,193.7 138.8,192.6 139.2,192.4 139.6,192.4 140.0,192.2 140.4,192.9 140.8,191.3 141.2,192.1 141.6,192.1 142.0,191.3 142.4,191.3 142.8,191.5 143.2,191.7 143.6,190.6 144.0,190.2 144.4,190.9 144.8,191.0 145.2,190.3 145.6,189.5 146.0,190.6 146.4,189.8 146.8,190.2 147.2,189.7 147.6,189.5 148.0,189.4 148.4,189.9 148.8,189.7 149.2,188.2 149.6,188.5 150.0,189.3 150.4,188.4 150.8,187.9 151.2,188.3 151.6,188.2 152.0,188.1 152.4,187.9 152.8,187.8 153.2,187.6 153.6,187.7 154.0,187.1 154.4,187.2 154.8,187.2 155.2,187.7 155.6,187.2 156.0,186.9 156.4,187.0 156.8,186.8 157.2,186.9 157.6,186.5 158.0,187.0 158.4,186.8 158.8,186.2 159.2,186.0 159.6,186.3 160.0,186.0 160.4,185.6 160.8,185.1 161.2,184.8 161.6,185.5 162.0,185.6 162.4,185.6" fill="none" stroke="#c8102e" stroke-width="2.4" stroke-linejoin="round" opacity="1.0"/>
<polyline points="213.5,222.8 213.9,222.7 214.3,222.7 214.7,222.2 215.1,223.2 215.5,222.7 215.9,221.3 216.3,222.4 216.7,222.8 217.1,223.2 217.5,222.4 217.9,222.2 218.3,222.0 218.7,222.7 219.1,222.1 219.5,222.1 219.9,221.9 220.3,222.6 220.7,222.0 221.1,221.4 221.5,222.6 221.9,221.7 222.3,221.7 222.7,220.9 223.1,220.5 223.5,219.5 223.9,217.9 224.3,217.1 224.7,215.6 225.1,216.5 225.5,215.1 225.9,214.9 226.3,213.2 226.7,211.7 227.1,213.1 227.5,211.7 227.9,211.3 228.3,210.7 228.7,210.6 229.1,210.0 229.5,208.4 229.9,209.7 230.3,208.6 230.7,208.3 231.1,209.2 231.5,208.5 231.9,207.5 232.3,206.4 232.7,207.3 233.1,207.5 233.5,207.2 233.9,206.7 234.3,206.7 234.7,206.2 235.1,206.8 235.5,207.2 235.9,207.4 236.3,206.4 236.7,206.8 237.1,206.9 237.5,206.3 237.9,206.4 238.3,207.5 238.7,206.5 239.1,207.0 239.5,206.3 239.9,206.5 240.3,205.3 240.7,206.3 241.1,207.0 241.5,207.4 241.9,206.9 242.3,206.5 242.7,206.3 243.1,206.0 243.5,206.2 243.9,206.7 244.3,205.9 244.7,206.9 245.1,205.7 245.5,205.2 245.9,205.5 246.3,205.3 246.7,205.5 247.1,207.1 247.5,206.5 247.9,206.6 248.3,207.0 248.7,207.0 249.1,206.1 249.5,207.2 249.9,206.8 250.3,206.7 250.7,206.9 251.1,205.9 251.5,206.2 251.9,206.7 252.3,207.2 252.7,206.8 253.1,207.0 253.5,207.5 253.9,208.0 254.3,207.6 254.7,207.8 255.1,206.8 255.5,207.0 255.9,207.5 256.3,207.1 256.7,207.0 257.1,208.2 257.5,207.3 257.9,207.0 258.3,207.6 258.7,208.5 259.1,207.6 259.5,208.6 259.9,207.7 260.3,207.7 260.7,207.6 261.1,208.0 261.5,209.3 261.9,207.7 262.3,209.3 262.7,207.9 263.1,208.5 263.5,209.2 263.9,209.2 264.3,208.9 264.7,207.9 265.1,209.0 265.5,208.3 265.9,210.2 266.3,208.7 266.7,208.8 267.1,207.7 267.5,207.8 267.9,206.9 268.3,207.8 268.7,206.3 269.1,206.1 269.5,204.6 269.9,204.0 270.3,204.4 270.7,202.3 271.1,201.1 271.5,201.5 271.9,200.3 272.3,200.3 272.7,200.5 273.1,199.0 273.5,199.3 273.9,198.0 274.3,198.8 274.7,198.1 275.1,196.6 275.5,196.1 275.9,195.4 276.3,195.4 276.7,195.5 277.1,193.5 277.5,194.3 277.9,192.5 278.3,192.4 278.7,191.5 279.1,193.6 279.5,192.0 279.9,191.8 280.3,190.8 280.7,191.5 281.1,189.5 281.5,190.4 281.9,191.2 282.3,189.3 282.7,189.2 283.1,189.3 283.5,188.2 283.9,188.4 284.3,188.4 284.7,187.8 285.1,187.6 285.5,187.0 285.9,186.9 286.3,186.5 286.7,186.9 287.1,186.4 287.5,185.3 287.9,184.0 288.3,185.5 288.7,185.3 289.1,184.0 289.5,182.9 289.9,183.0 290.3,183.9 290.7,182.8 291.1,183.1 291.5,183.3 291.9,183.7 292.3,182.8 292.7,182.8 293.1,182.3 293.5,183.3 293.9,182.4 294.3,181.6 294.7,180.8 295.1,181.1 295.5,181.8 295.9,181.0 296.3,181.9 296.7,181.3 297.1,181.0 297.5,181.0 297.9,180.9 298.3,180.0 298.7,180.0 299.1,181.3 299.5,179.4 299.9,179.8 300.3,180.5 300.7,179.6 301.1,179.1 301.5,178.8 301.9,179.7 302.3,179.8 302.7,179.7 303.1,178.9 303.5,179.2 303.9,177.9 304.3,178.4 304.7,177.8 305.1,178.4 305.5,178.7 305.9,178.7 306.3,177.3 306.7,178.2 307.1,177.0 307.5,176.7 307.9,177.1 308.3,176.4 308.7,177.1 309.1,177.1 309.5,176.9 309.9,177.1 310.3,176.6 310.7,176.5 311.1,175.8 311.5,176.3 311.9,175.8 312.3,175.8 312.7,176.0 313.1,176.1 313.5,174.9 313.9,174.8 314.3,175.4 314.7,175.8 315.1,175.8 315.5,176.0 315.9,176.1 316.3,175.5 316.7,175.1 317.1,174.6 317.5,174.6 317.9,174.8 318.3,175.1 318.7,174.8 319.1,174.7 319.5,174.5 319.9,175.0 320.3,174.7 320.7,174.9 321.1,174.9 321.5,174.2 321.9,173.8 322.3,174.5 322.7,174.4 323.1,174.1 323.5,174.3 323.9,175.7 324.3,173.9 324.7,174.0 325.1,174.2 325.5,173.4 325.9,174.0 326.3,174.8 326.7,174.2 327.1,174.2 327.5,174.2 327.9,174.1 328.3,174.5 328.7,173.9 329.1,173.7" fill="none" stroke="#37a935" stroke-width="2.4" stroke-linejoin="round" opacity="1.0"/>
<polyline points="219.2,221.9 219.2,228.3" fill="none" stroke="#4a8a3a" stroke-width="1.0" stroke-linejoin="round" opacity="1.0"/>
<polyline points="213.5,222.0 213.9,221.4 214.3,221.5 214.7,221.4 215.1,221.6 215.5,221.7 215.9,221.4 216.3,221.8 216.7,222.0 217.1,221.7 217.5,221.7 217.9,221.5 218.3,221.7 218.7,221.1 219.1,221.6 219.5,221.6 219.9,221.3 220.3,222.4 220.7,221.3 221.1,221.4 221.5,221.8 221.9,220.7 222.3,220.7 222.7,219.6 223.1,218.8 223.5,218.0 223.9,217.0 224.3,216.4 224.7,215.4 225.1,214.8 225.5,213.9 225.9,212.7 226.3,212.5 226.7,211.3 227.1,210.7 227.5,210.9 227.9,210.2 228.3,209.6 228.7,209.5 229.1,209.1 229.5,207.8 229.9,207.9 230.3,207.0 230.7,207.1 231.1,206.5 231.5,207.0 231.9,206.5 232.3,205.8 232.7,206.0 233.1,205.5 233.5,205.8 233.9,205.9 234.3,205.6 234.7,204.7 235.1,205.3 235.5,205.5 235.9,205.5 236.3,205.7 236.7,204.8 237.1,205.3 237.5,204.8 237.9,205.0 238.3,205.0 238.7,205.2 239.1,204.7 239.5,204.9 239.9,204.3 240.3,204.2 240.7,204.8 241.1,204.6 241.5,204.0 241.9,204.3 242.3,204.7 242.7,205.2 243.1,205.1 243.5,205.0 243.9,204.2 244.3,204.8 244.7,204.9 245.1,205.0 245.5,205.1 245.9,205.0 246.3,205.6 246.7,205.6 247.1,205.1 247.5,204.9 247.9,206.0 248.3,205.1 248.7,205.8 249.1,206.2 249.5,205.4 249.9,205.9 250.3,205.7 250.7,206.0 251.1,206.0 251.5,206.8 251.9,206.5 252.3,206.5 252.7,206.9 253.1,206.4 253.5,206.4 253.9,207.4 254.3,206.3 254.7,206.6 255.1,206.9 255.5,206.6 255.9,206.2 256.3,207.4 256.7,206.8 257.1,207.0 257.5,207.0 257.9,206.9 258.3,207.0 258.7,207.5 259.1,208.2 259.5,207.7 259.9,207.8 260.3,207.1 260.7,207.6 261.1,207.3 261.5,208.0 261.9,207.9 262.3,208.1 262.7,208.0 263.1,207.8 263.5,207.5 263.9,208.3 264.3,207.8 264.7,207.9 265.1,208.4 265.5,208.2 265.9,208.7 266.3,208.9 266.7,208.7 267.1,208.8 267.5,208.9 267.9,209.2 268.3,208.3 268.7,209.0 269.1,208.7 269.5,208.6 269.9,209.1 270.3,209.0 270.7,209.3 271.1,209.6 271.5,208.4 271.9,209.4 272.3,210.1 272.7,209.8 273.1,209.9 273.5,209.6 273.9,209.2 274.3,209.5 274.7,210.2 275.1,210.2 275.5,209.5 275.9,209.6 276.3,209.9 276.7,209.2 277.1,209.7 277.5,210.4 277.9,210.7 278.3,210.0 278.7,210.7 279.1,209.8 279.5,209.6 279.9,209.1 280.3,210.3 280.7,209.8 281.1,210.7 281.5,210.0 281.9,209.9 282.3,209.4 282.7,210.5 283.1,209.9 283.5,209.9 283.9,209.1 284.3,210.0 284.7,210.0 285.1,209.4 285.5,209.6 285.9,209.6 286.3,209.8 286.7,209.5 287.1,210.0 287.5,209.4 287.9,209.2 288.3,208.9 288.7,208.0 289.1,208.3 289.5,208.7 289.9,208.0 290.3,207.1 290.7,207.0 291.1,205.8 291.5,205.9 291.9,205.8 292.3,205.4 292.7,204.4 293.1,204.6 293.5,204.5 293.9,203.3 294.3,203.4 294.7,202.4 295.1,201.9 295.5,202.6 295.9,202.2 296.3,201.9 296.7,201.3 297.1,201.1 297.5,201.2 297.9,201.3 298.3,200.3 298.7,199.6 299.1,200.4 299.5,199.9 299.9,199.6 300.3,199.2 300.7,199.8 301.1,198.8 301.5,198.8 301.9,197.7 302.3,198.0 302.7,197.6 303.1,197.7 303.5,197.6 303.9,197.1 304.3,197.7 304.7,196.5 305.1,196.5 305.5,196.5 305.9,195.9 306.3,196.4 306.7,196.3 307.1,195.8 307.5,196.4 307.9,195.5 308.3,195.4 308.7,194.8 309.1,194.4 309.5,194.7 309.9,194.6 310.3,194.4 310.7,194.7 311.1,193.5 311.5,193.8 311.9,193.4 312.3,194.4 312.7,193.5 313.1,193.3 313.5,193.0 313.9,193.7 314.3,193.1 314.7,193.2 315.1,192.1 315.5,193.1 315.9,192.6 316.3,192.5 316.7,192.6 317.1,191.9 317.5,191.7 317.9,191.7 318.3,191.4 318.7,191.0 319.1,191.0 319.5,190.7 319.9,190.9 320.3,190.7 320.7,190.2 321.1,190.7 321.5,189.3 321.9,189.5 322.3,189.9 322.7,188.9 323.1,188.4 323.5,189.3 323.9,188.9 324.3,188.0 324.7,188.4 325.1,187.5 325.5,187.1 325.9,187.3 326.3,187.0 326.7,186.6 327.1,186.7 327.5,186.3 327.9,186.3 328.3,186.0 328.7,185.9 329.1,185.5" fill="none" stroke="#c8102e" stroke-width="2.4" stroke-linejoin="round" opacity="1.0"/>
<line x1="387.50" y1="89.50" x2="387.50" y2="175.10" stroke="#231f20" stroke-width="1.3"/>
<line x1="385.50" y1="175.10" x2="387.50" y2="175.10" stroke="#231f20" stroke-width="0.8"/>
<text x="382.10" y="177.40" font-size="6.8" text-anchor="end" font-weight="normal" fill="#231f20" stroke="#231f20" stroke-width="0.1" textLength="3.78" lengthAdjust="spacingAndGlyphs">0</text>
<line x1="385.50" y1="158.50" x2="387.50" y2="158.50" stroke="#231f20" stroke-width="0.8"/>
<text x="382.10" y="160.80" font-size="6.8" text-anchor="end" font-weight="normal" fill="#231f20" stroke="#231f20" stroke-width="0.1" textLength="18.9" lengthAdjust="spacingAndGlyphs">10000</text>
<line x1="385.50" y1="141.90" x2="387.50" y2="141.90" stroke="#231f20" stroke-width="0.8"/>
<text x="382.10" y="144.20" font-size="6.8" text-anchor="end" font-weight="normal" fill="#231f20" stroke="#231f20" stroke-width="0.1" textLength="18.9" lengthAdjust="spacingAndGlyphs">20000</text>
<line x1="385.50" y1="125.30" x2="387.50" y2="125.30" stroke="#231f20" stroke-width="0.8"/>
<text x="382.10" y="127.60" font-size="6.8" text-anchor="end" font-weight="normal" fill="#231f20" stroke="#231f20" stroke-width="0.1" textLength="18.9" lengthAdjust="spacingAndGlyphs">30000</text>
<line x1="385.50" y1="108.70" x2="387.50" y2="108.70" stroke="#231f20" stroke-width="0.8"/>
<text x="382.10" y="111.00" font-size="6.8" text-anchor="end" font-weight="normal" fill="#231f20" stroke="#231f20" stroke-width="0.1" textLength="18.9" lengthAdjust="spacingAndGlyphs">40000</text>
<line x1="385.50" y1="92.10" x2="387.50" y2="92.10" stroke="#231f20" stroke-width="0.8"/>
<text x="382.10" y="94.40" font-size="6.8" text-anchor="end" font-weight="normal" fill="#231f20" stroke="#231f20" stroke-width="0.1" textLength="18.9" lengthAdjust="spacingAndGlyphs">50000</text>
<line x1="387.50" y1="175.10" x2="513.00" y2="175.10" stroke="#231f20" stroke-width="1.3"/>
<line x1="396.30" y1="106.79" x2="396.30" y2="114.09" stroke="#37a935" stroke-width="0.8"/>
<line x1="394.10" y1="106.79" x2="398.50" y2="106.79" stroke="#37a935" stroke-width="0.8"/>
<rect x="392.30" y="114.09" width="8.00" height="61.00" fill="#37a935"/>
<line x1="408.10" y1="148.21" x2="408.10" y2="156.01" stroke="#c8102e" stroke-width="0.8"/>
<line x1="405.90" y1="148.21" x2="410.30" y2="148.21" stroke="#c8102e" stroke-width="0.8"/>
<rect x="404.10" y="156.01" width="8.00" height="19.09" fill="#c8102e"/>
<line x1="402.20" y1="175.10" x2="402.20" y2="177.10" stroke="#231f20" stroke-width="0.8"/>
<text x="402.20" y="185.90" font-size="6.2" text-anchor="middle" font-weight="normal" fill="#231f20" stroke="#231f20" stroke-width="0.1">2.5 μM</text>
<text x="408.10" y="148.41" font-size="5.5" text-anchor="middle" font-weight="normal" fill="#231f20" stroke="#231f20" stroke-width="0.1">*</text>
<line x1="428.40" y1="105.38" x2="428.40" y2="107.31" stroke="#37a935" stroke-width="0.8"/>
<line x1="426.20" y1="105.38" x2="430.60" y2="105.38" stroke="#37a935" stroke-width="0.8"/>
<rect x="424.40" y="107.31" width="8.00" height="67.79" fill="#37a935"/>
<line x1="440.20" y1="137.83" x2="440.20" y2="138.20" stroke="#c8102e" stroke-width="0.8"/>
<line x1="438.00" y1="137.83" x2="442.40" y2="137.83" stroke="#c8102e" stroke-width="0.8"/>
<rect x="436.20" y="138.20" width="8.00" height="36.90" fill="#c8102e"/>
<line x1="434.30" y1="175.10" x2="434.30" y2="177.10" stroke="#231f20" stroke-width="0.8"/>
<text x="434.30" y="185.90" font-size="6.2" text-anchor="middle" font-weight="normal" fill="#231f20" stroke="#231f20" stroke-width="0.1">5 μM</text>
<text x="440.20" y="138.03" font-size="5.5" text-anchor="middle" font-weight="normal" fill="#231f20" stroke="#231f20" stroke-width="0.1">*</text>
<line x1="460.50" y1="102.06" x2="460.50" y2="102.39" stroke="#37a935" stroke-width="0.8"/>
<line x1="458.30" y1="102.06" x2="462.70" y2="102.06" stroke="#37a935" stroke-width="0.8"/>
<rect x="456.50" y="102.39" width="8.00" height="72.71" fill="#37a935"/>
<line x1="472.30" y1="125.50" x2="472.30" y2="128.30" stroke="#c8102e" stroke-width="0.8"/>
<line x1="470.10" y1="125.50" x2="474.50" y2="125.50" stroke="#c8102e" stroke-width="0.8"/>
<rect x="468.30" y="128.30" width="8.00" height="46.80" fill="#c8102e"/>
<line x1="466.40" y1="175.10" x2="466.40" y2="177.10" stroke="#231f20" stroke-width="0.8"/>
<text x="466.40" y="185.90" font-size="6.2" text-anchor="middle" font-weight="normal" fill="#231f20" stroke="#231f20" stroke-width="0.1">10 μM</text>
<text x="472.30" y="125.70" font-size="5.5" text-anchor="middle" font-weight="normal" fill="#231f20" stroke="#231f20" stroke-width="0.1">*</text>
<line x1="492.70" y1="116.80" x2="492.70" y2="119.71" stroke="#37a935" stroke-width="0.8"/>
<line x1="490.50" y1="116.80" x2="494.90" y2="116.80" stroke="#37a935" stroke-width="0.8"/>
<rect x="488.70" y="119.71" width="8.00" height="55.39" fill="#37a935"/>
<line x1="504.50" y1="137.00" x2="504.50" y2="139.91" stroke="#c8102e" stroke-width="0.8"/>
<line x1="502.30" y1="137.00" x2="506.70" y2="137.00" stroke="#c8102e" stroke-width="0.8"/>
<rect x="500.50" y="139.91" width="8.00" height="35.19" fill="#c8102e"/>
<line x1="498.60" y1="175.10" x2="498.60" y2="177.10" stroke="#231f20" stroke-width="0.8"/>
<text x="498.60" y="185.90" font-size="6.2" text-anchor="middle" font-weight="normal" fill="#231f20" stroke="#231f20" stroke-width="0.1">20 μM</text>
<text x="504.50" y="137.20" font-size="5.5" text-anchor="middle" font-weight="normal" fill="#231f20" stroke="#231f20" stroke-width="0.1">**</text>
<text x="450.00" y="197.60" font-size="7.2" text-anchor="middle" font-weight="normal" fill="#231f20" stroke="#231f20" stroke-width="0.3" textLength="27.5" lengthAdjust="spacingAndGlyphs">ADP [μM]</text>
<text x="357.80" y="131.50" font-size="6.6" text-anchor="middle" font-weight="normal" fill="#231f20" stroke="#231f20" stroke-width="0.25" textLength="48" lengthAdjust="spacingAndGlyphs" transform="rotate(-90 357.8 131.5)">AUC (percent-sec)</text>
<rect x="475.90" y="69.50" width="6.00" height="5.70" fill="#37a935"/>
<rect x="475.90" y="79.40" width="6.00" height="5.70" fill="#c8102e"/>
<text x="484.80" y="74.70" font-size="6.6" text-anchor="start" font-weight="normal" fill="#231f20" stroke="#231f20" stroke-width="0.1" textLength="19.7" lengthAdjust="spacingAndGlyphs">Vehicle</text>
<text x="484.80" y="84.60" font-size="6.6" text-anchor="start" font-weight="normal" fill="#231f20" stroke="#231f20" stroke-width="0.1" textLength="28.3" lengthAdjust="spacingAndGlyphs">Puromycin</text>
<line x1="47.20" y1="292.95" x2="47.20" y2="370.25" stroke="#231f20" stroke-width="1.15"/>
<line x1="44.60" y1="368.05" x2="47.20" y2="368.05" stroke="#231f20" stroke-width="0.8"/>
<text x="41.60" y="370.35" font-size="6.5" text-anchor="end" font-weight="normal" fill="#231f20" stroke="#231f20" stroke-width="0.1">–20</text>
<line x1="44.60" y1="355.70" x2="47.20" y2="355.70" stroke="#231f20" stroke-width="0.8"/>
<text x="41.60" y="358.00" font-size="6.5" text-anchor="end" font-weight="normal" fill="#231f20" stroke="#231f20" stroke-width="0.1">0</text>
<line x1="44.60" y1="343.35" x2="47.20" y2="343.35" stroke="#231f20" stroke-width="0.8"/>
<text x="41.60" y="345.65" font-size="6.5" text-anchor="end" font-weight="normal" fill="#231f20" stroke="#231f20" stroke-width="0.1">20</text>
<line x1="44.60" y1="331.00" x2="47.20" y2="331.00" stroke="#231f20" stroke-width="0.8"/>
<text x="41.60" y="333.30" font-size="6.5" text-anchor="end" font-weight="normal" fill="#231f20" stroke="#231f20" stroke-width="0.1">40</text>
<line x1="44.60" y1="318.65" x2="47.20" y2="318.65" stroke="#231f20" stroke-width="0.8"/>
<text x="41.60" y="320.95" font-size="6.5" text-anchor="end" font-weight="normal" fill="#231f20" stroke="#231f20" stroke-width="0.1">60</text>
<line x1="44.60" y1="306.30" x2="47.20" y2="306.30" stroke="#231f20" stroke-width="0.8"/>
<text x="41.60" y="308.60" font-size="6.5" text-anchor="end" font-weight="normal" fill="#231f20" stroke="#231f20" stroke-width="0.1">80</text>
<line x1="44.60" y1="293.95" x2="47.20" y2="293.95" stroke="#231f20" stroke-width="0.8"/>
<text x="41.60" y="296.25" font-size="6.5" text-anchor="end" font-weight="normal" fill="#231f20" stroke="#231f20" stroke-width="0.1">100</text>
<line x1="47.20" y1="355.70" x2="159.20" y2="355.70" stroke="#231f20" stroke-width="1.0"/>
<line x1="93.75" y1="355.70" x2="93.75" y2="358.30" stroke="#231f20" stroke-width="0.9"/>
<text x="93.75" y="367.30" font-size="6.5" text-anchor="middle" font-weight="normal" fill="#231f20" stroke="#231f20" stroke-width="0.1">500</text>
<line x1="140.00" y1="355.70" x2="140.00" y2="358.30" stroke="#231f20" stroke-width="0.9"/>
<text x="140.00" y="367.30" font-size="6.5" text-anchor="middle" font-weight="normal" fill="#231f20" stroke="#231f20" stroke-width="0.1">1000</text>
<text x="103.70" y="285.80" font-size="8.2" text-anchor="middle" font-weight="normal" fill="#231f20" stroke="#231f20" stroke-width="0.15" textLength="71.8" lengthAdjust="spacingAndGlyphs">Convulxin 25 ng/mL</text>
<text x="24.00" y="331.50" font-size="7.2" text-anchor="middle" font-weight="normal" fill="#231f20" stroke="#231f20" stroke-width="0.28" textLength="81" lengthAdjust="spacingAndGlyphs" transform="rotate(-90 24.000000000000004 331.5)">Percent of maximal aggregation</text>
<text x="103.40" y="378.60" font-size="8.0" text-anchor="middle" font-weight="normal" fill="#231f20" stroke="#231f20" stroke-width="0.35" textLength="21.3" lengthAdjust="spacingAndGlyphs">Time (s)</text>
<line x1="214.10" y1="292.95" x2="214.10" y2="370.25" stroke="#231f20" stroke-width="1.15"/>
<line x1="211.50" y1="368.05" x2="214.10" y2="368.05" stroke="#231f20" stroke-width="0.8"/>
<text x="208.50" y="370.35" font-size="6.5" text-anchor="end" font-weight="normal" fill="#231f20" stroke="#231f20" stroke-width="0.1">–20</text>
<line x1="211.50" y1="355.70" x2="214.10" y2="355.70" stroke="#231f20" stroke-width="0.8"/>
<text x="208.50" y="358.00" font-size="6.5" text-anchor="end" font-weight="normal" fill="#231f20" stroke="#231f20" stroke-width="0.1">0</text>
<line x1="211.50" y1="343.35" x2="214.10" y2="343.35" stroke="#231f20" stroke-width="0.8"/>
<text x="208.50" y="345.65" font-size="6.5" text-anchor="end" font-weight="normal" fill="#231f20" stroke="#231f20" stroke-width="0.1">20</text>
<line x1="211.50" y1="331.00" x2="214.10" y2="331.00" stroke="#231f20" stroke-width="0.8"/>
<text x="208.50" y="333.30" font-size="6.5" text-anchor="end" font-weight="normal" fill="#231f20" stroke="#231f20" stroke-width="0.1">40</text>
<line x1="211.50" y1="318.65" x2="214.10" y2="318.65" stroke="#231f20" stroke-width="0.8"/>
<text x="208.50" y="320.95" font-size="6.5" text-anchor="end" font-weight="normal" fill="#231f20" stroke="#231f20" stroke-width="0.1">60</text>
<line x1="211.50" y1="306.30" x2="214.10" y2="306.30" stroke="#231f20" stroke-width="0.8"/>
<text x="208.50" y="308.60" font-size="6.5" text-anchor="end" font-weight="normal" fill="#231f20" stroke="#231f20" stroke-width="0.1">80</text>
<line x1="211.50" y1="293.95" x2="214.10" y2="293.95" stroke="#231f20" stroke-width="0.8"/>
<text x="208.50" y="296.25" font-size="6.5" text-anchor="end" font-weight="normal" fill="#231f20" stroke="#231f20" stroke-width="0.1">100</text>
<line x1="214.10" y1="355.70" x2="326.10" y2="355.70" stroke="#231f20" stroke-width="1.0"/>
<line x1="260.55" y1="355.70" x2="260.55" y2="358.30" stroke="#231f20" stroke-width="0.9"/>
<text x="260.55" y="367.30" font-size="6.5" text-anchor="middle" font-weight="normal" fill="#231f20" stroke="#231f20" stroke-width="0.1">500</text>
<line x1="306.80" y1="355.70" x2="306.80" y2="358.30" stroke="#231f20" stroke-width="0.9"/>
<text x="306.80" y="367.30" font-size="6.5" text-anchor="middle" font-weight="normal" fill="#231f20" stroke="#231f20" stroke-width="0.1">1000</text>
<text x="269.75" y="285.80" font-size="8.2" text-anchor="middle" font-weight="normal" fill="#231f20" stroke="#231f20" stroke-width="0.15" textLength="71.5" lengthAdjust="spacingAndGlyphs">Convulxin 50 ng/mL</text>
<text x="190.90" y="331.50" font-size="7.2" text-anchor="middle" font-weight="normal" fill="#231f20" stroke="#231f20" stroke-width="0.28" textLength="81" lengthAdjust="spacingAndGlyphs" transform="rotate(-90 190.9 331.5)">Percent of maximal aggregation</text>
<text x="270.30" y="378.60" font-size="8.0" text-anchor="middle" font-weight="normal" fill="#231f20" stroke="#231f20" stroke-width="0.35" textLength="21.3" lengthAdjust="spacingAndGlyphs">Time (s)</text>
<line x1="381.50" y1="292.95" x2="381.50" y2="370.25" stroke="#231f20" stroke-width="1.15"/>
<line x1="378.90" y1="368.05" x2="381.50" y2="368.05" stroke="#231f20" stroke-width="0.8"/>
<text x="375.90" y="370.35" font-size="6.5" text-anchor="end" font-weight="normal" fill="#231f20" stroke="#231f20" stroke-width="0.1">–20</text>
<line x1="378.90" y1="355.70" x2="381.50" y2="355.70" stroke="#231f20" stroke-width="0.8"/>
<text x="375.90" y="358.00" font-size="6.5" text-anchor="end" font-weight="normal" fill="#231f20" stroke="#231f20" stroke-width="0.1">0</text>
<line x1="378.90" y1="343.35" x2="381.50" y2="343.35" stroke="#231f20" stroke-width="0.8"/>
<text x="375.90" y="345.65" font-size="6.5" text-anchor="end" font-weight="normal" fill="#231f20" stroke="#231f20" stroke-width="0.1">20</text>
<line x1="378.90" y1="331.00" x2="381.50" y2="331.00" stroke="#231f20" stroke-width="0.8"/>
<text x="375.90" y="333.30" font-size="6.5" text-anchor="end" font-weight="normal" fill="#231f20" stroke="#231f20" stroke-width="0.1">40</text>
<line x1="378.90" y1="318.65" x2="381.50" y2="318.65" stroke="#231f20" stroke-width="0.8"/>
<text x="375.90" y="320.95" font-size="6.5" text-anchor="end" font-weight="normal" fill="#231f20" stroke="#231f20" stroke-width="0.1">60</text>
<line x1="378.90" y1="306.30" x2="381.50" y2="306.30" stroke="#231f20" stroke-width="0.8"/>
<text x="375.90" y="308.60" font-size="6.5" text-anchor="end" font-weight="normal" fill="#231f20" stroke="#231f20" stroke-width="0.1">80</text>
<line x1="378.90" y1="293.95" x2="381.50" y2="293.95" stroke="#231f20" stroke-width="0.8"/>
<text x="375.90" y="296.25" font-size="6.5" text-anchor="end" font-weight="normal" fill="#231f20" stroke="#231f20" stroke-width="0.1">100</text>
<line x1="381.50" y1="355.70" x2="493.50" y2="355.70" stroke="#231f20" stroke-width="1.0"/>
<line x1="427.95" y1="355.70" x2="427.95" y2="358.30" stroke="#231f20" stroke-width="0.9"/>
<text x="427.95" y="367.30" font-size="6.5" text-anchor="middle" font-weight="normal" fill="#231f20" stroke="#231f20" stroke-width="0.1">500</text>
<line x1="474.20" y1="355.70" x2="474.20" y2="358.30" stroke="#231f20" stroke-width="0.9"/>
<text x="474.20" y="367.30" font-size="6.5" text-anchor="middle" font-weight="normal" fill="#231f20" stroke="#231f20" stroke-width="0.1">1000</text>
<text x="437.60" y="285.80" font-size="8.2" text-anchor="middle" font-weight="normal" fill="#231f20" stroke="#231f20" stroke-width="0.15" textLength="76.2" lengthAdjust="spacingAndGlyphs">Convulxin 100 ng/mL</text>
<text x="358.30" y="331.50" font-size="7.2" text-anchor="middle" font-weight="normal" fill="#231f20" stroke="#231f20" stroke-width="0.28" textLength="81" lengthAdjust="spacingAndGlyphs" transform="rotate(-90 358.3 331.5)">Percent of maximal aggregation</text>
<text x="437.70" y="378.60" font-size="8.0" text-anchor="middle" font-weight="normal" fill="#231f20" stroke="#231f20" stroke-width="0.35" textLength="21.3" lengthAdjust="spacingAndGlyphs">Time (s)</text>
<polyline points="47.5,355.1 47.9,355.0 48.3,354.9 48.7,354.7 49.1,354.5 49.5,354.5 49.9,354.8 50.3,354.3 50.7,354.2 51.1,355.1 51.5,354.5 51.9,354.5 52.3,354.4 52.7,354.6 53.1,354.5 53.5,354.4 53.9,353.5 54.3,353.9 54.7,353.2 55.1,354.4 55.5,353.7 55.9,354.8 56.3,356.2 56.7,356.2 57.1,356.4 57.5,357.1 57.9,356.8 58.3,357.4 58.7,356.7 59.1,357.6 59.5,357.6 59.9,358.0 60.3,358.0 60.7,357.2 61.1,358.2 61.5,357.4 61.9,356.8 62.3,356.8 62.7,358.4 63.1,357.6 63.5,357.2 63.9,357.2 64.3,357.2 64.7,358.2 65.1,357.5 65.5,358.3 65.9,357.7 66.3,356.9 66.7,358.0 67.1,357.6 67.5,357.6 67.9,358.4 68.3,357.5 68.7,358.1 69.1,357.6 69.5,357.5 69.9,357.9 70.3,357.4 70.7,358.2 71.1,358.2 71.5,358.0 71.9,358.2 72.3,358.3 72.7,357.9 73.1,358.4 73.5,357.9 73.9,358.1 74.3,357.4 74.7,357.8 75.1,358.0 75.5,357.5 75.9,357.8 76.3,357.8 76.7,358.4 77.1,357.6 77.5,357.8 77.9,358.3 78.3,358.0 78.7,357.3 79.1,358.0 79.5,358.3 79.9,357.8 80.3,358.5 80.7,358.3 81.1,358.1 81.5,357.7 81.9,357.6 82.3,357.9 82.7,358.1 83.1,358.2 83.5,358.1 83.9,357.8 84.3,358.1 84.7,358.3 85.1,357.4 85.5,357.6 85.9,357.6 86.3,357.9 86.7,357.9 87.1,357.8 87.5,357.6 87.9,358.2 88.3,358.0 88.7,357.1 89.1,357.8 89.5,357.4 89.9,358.6 90.3,357.8 90.7,357.9 91.1,358.1 91.5,357.9 91.9,358.0 92.3,358.5 92.7,358.0 93.1,358.2 93.5,358.3 93.9,357.5 94.3,358.5 94.7,358.1 95.1,358.3 95.5,357.7 95.9,358.2 96.3,357.9 96.7,357.6 97.1,358.9 97.5,358.3 97.9,357.9 98.3,358.1 98.7,358.2 99.1,358.4 99.5,358.1 99.9,358.5 100.3,358.5 100.7,357.5 101.1,357.9 101.5,357.7 101.9,358.0 102.3,358.6 102.7,358.2 103.1,357.6 103.5,357.7 103.9,358.3 104.3,357.6 104.7,357.8 105.1,357.9 105.5,357.2 105.9,358.3 106.3,358.2 106.7,358.2 107.1,357.4 107.5,357.7 107.9,357.8 108.3,358.2 108.7,358.1 109.1,358.1 109.5,358.7 109.9,358.3 110.3,357.6 110.7,357.6 111.1,358.6 111.5,357.7 111.9,358.4 112.3,358.6 112.7,357.8 113.1,358.0 113.5,358.1 113.9,357.7 114.3,357.5 114.7,357.8 115.1,358.5 115.5,358.1 115.9,358.2 116.3,357.9 116.7,357.5 117.1,358.7 117.5,357.1 117.9,357.8 118.3,358.2 118.7,357.5 119.1,358.4 119.5,358.6 119.9,357.9 120.3,358.3 120.7,357.9 121.1,358.3 121.5,358.1 121.9,358.2 122.3,358.6 122.7,358.2 123.1,358.5 123.5,358.2 123.9,357.7 124.3,358.3 124.7,358.4 125.1,357.5 125.5,358.6 125.9,358.1 126.3,358.3 126.7,357.9 127.1,358.2 127.5,358.4 127.9,358.1 128.3,358.2 128.7,357.4 129.1,358.8 129.5,357.7 129.9,357.1 130.3,357.5 130.7,357.7 131.1,358.2 131.5,357.6 131.9,358.0 132.3,357.4 132.7,358.8 133.1,358.2 133.5,358.9 133.9,358.0 134.3,358.8 134.7,358.1 135.1,358.4 135.5,358.4 135.9,357.4 136.3,357.6 136.7,357.5 137.1,357.4 137.5,357.7 137.9,357.5 138.3,357.5 138.7,358.1 139.1,358.3 139.5,357.6 139.9,358.0 140.3,358.2 140.7,358.0 141.1,357.8 141.5,358.3 141.9,358.3 142.3,358.4 142.7,358.1 143.1,359.0 143.5,358.8 143.9,357.8 144.3,357.9 144.7,358.5 145.1,357.8 145.5,358.2 145.9,358.0 146.3,357.8 146.7,358.1 147.1,357.5 147.5,357.8 147.9,357.3 148.3,359.0 148.7,358.7 149.1,358.5 149.5,358.4 149.9,358.8 150.3,359.0 150.7,358.7 151.1,358.6 151.5,357.7 151.9,358.2 152.3,357.9 152.7,357.7 153.1,357.6 153.5,358.3 153.9,358.5 154.3,357.5 154.7,358.7 155.1,358.8 155.5,358.1 155.9,358.1 156.3,358.2 156.7,358.5 157.1,357.9 157.5,357.6 157.9,358.2 158.3,357.3" fill="none" stroke="#c8102e" stroke-width="1.6" stroke-linejoin="round" opacity="1.0"/>
<polyline points="47.5,354.2 47.9,354.4 48.3,354.3 48.7,354.2 49.1,355.2 49.5,354.4 49.9,354.1 50.3,354.9 50.7,354.9 51.1,354.9 51.5,355.0 51.9,353.9 52.3,354.8 52.7,355.0 53.1,354.6 53.5,354.5 53.9,352.9 54.3,353.8 54.7,355.0 55.1,354.0 55.5,355.1 55.9,355.8 56.3,356.3 56.7,357.0 57.1,355.9 57.5,356.7 57.9,357.1 58.3,356.2 58.7,356.8 59.1,357.7 59.5,357.5 59.9,357.3 60.3,356.1 60.7,357.0 61.1,357.2 61.5,356.8 61.9,356.9 62.3,358.4 62.7,357.1 63.1,357.0 63.5,357.2 63.9,357.1 64.3,356.9 64.7,356.9 65.1,357.4 65.5,357.1 65.9,356.7 66.3,357.1 66.7,357.3 67.1,356.9 67.5,357.5 67.9,357.4 68.3,356.5 68.7,357.0 69.1,357.8 69.5,357.9 69.9,357.3 70.3,357.5 70.7,356.8 71.1,356.6 71.5,357.3 71.9,357.2 72.3,357.4 72.7,357.2 73.1,357.4 73.5,356.9 73.9,357.2 74.3,357.3 74.7,357.0 75.1,357.4 75.5,356.2 75.9,356.6 76.3,357.5 76.7,357.7 77.1,357.1 77.5,357.0 77.9,356.6 78.3,357.2 78.7,357.4 79.1,356.4 79.5,357.1 79.9,357.1 80.3,357.2 80.7,356.4 81.1,357.2 81.5,356.4 81.9,357.7 82.3,357.0 82.7,356.5 83.1,357.5 83.5,357.4 83.9,356.6 84.3,357.8 84.7,356.6 85.1,357.2 85.5,357.6 85.9,356.2 86.3,357.6 86.7,357.1 87.1,357.0 87.5,356.3 87.9,356.9 88.3,356.5 88.7,356.5 89.1,356.9 89.5,356.5 89.9,357.6 90.3,356.5 90.7,356.6 91.1,356.9 91.5,357.0 91.9,357.4 92.3,357.4 92.7,357.0 93.1,356.8 93.5,356.9 93.9,357.3 94.3,357.4 94.7,357.0 95.1,356.4 95.5,358.1 95.9,357.6 96.3,357.3 96.7,357.3 97.1,357.0 97.5,356.8 97.9,357.0 98.3,357.1 98.7,356.8 99.1,356.3 99.5,356.8 99.9,357.4 100.3,357.0 100.7,357.2 101.1,356.3 101.5,357.1 101.9,357.0 102.3,356.7 102.7,356.7 103.1,357.6 103.5,356.9 103.9,357.3 104.3,357.0 104.7,357.4 105.1,357.0 105.5,356.4 105.9,357.0 106.3,356.9 106.7,357.2 107.1,356.7 107.5,356.8 107.9,357.4 108.3,357.5 108.7,357.5 109.1,357.5 109.5,357.3 109.9,357.4 110.3,357.4 110.7,357.1 111.1,356.9 111.5,357.1 111.9,358.0 112.3,357.2 112.7,357.0 113.1,357.1 113.5,357.1 113.9,357.1 114.3,356.5 114.7,356.3 115.1,357.3 115.5,356.5 115.9,357.1 116.3,357.1 116.7,357.6 117.1,358.0 117.5,357.4 117.9,356.8 118.3,356.5 118.7,356.5 119.1,356.9 119.5,356.1 119.9,357.3 120.3,357.2 120.7,357.4 121.1,356.9 121.5,357.0 121.9,356.7 122.3,356.7 122.7,356.2 123.1,357.1 123.5,357.8 123.9,357.4 124.3,357.5 124.7,356.9 125.1,357.7 125.5,356.5 125.9,357.2 126.3,357.0 126.7,356.8 127.1,357.5 127.5,357.0 127.9,357.1 128.3,357.2 128.7,357.0 129.1,357.0 129.5,357.3 129.9,357.0 130.3,357.0 130.7,356.8 131.1,356.4 131.5,356.6 131.9,356.5 132.3,356.9 132.7,357.5 133.1,356.4 133.5,357.2 133.9,356.2 134.3,356.9 134.7,356.9 135.1,356.1 135.5,356.1 135.9,357.0 136.3,357.1 136.7,357.1 137.1,356.8 137.5,358.0 137.9,356.9 138.3,356.7 138.7,357.7 139.1,357.3 139.5,356.9 139.9,357.4 140.3,357.1 140.7,357.5 141.1,357.3 141.5,356.9 141.9,357.4 142.3,357.3 142.7,356.8 143.1,357.0 143.5,357.5 143.9,356.9 144.3,357.1 144.7,357.3 145.1,357.2 145.5,356.5 145.9,357.5 146.3,357.6 146.7,357.4 147.1,357.7 147.5,357.1 147.9,357.3 148.3,357.7 148.7,357.1 149.1,358.0 149.5,357.9 149.9,357.4 150.3,358.0 150.7,357.5 151.1,356.7 151.5,357.4 151.9,357.2 152.3,357.3 152.7,357.3 153.1,357.6 153.5,357.3 153.9,356.7 154.3,357.2 154.7,357.2 155.1,356.9 155.5,357.0 155.9,357.1 156.3,357.0 156.7,357.2 157.1,357.6 157.5,357.8 157.9,357.7 158.3,357.5" fill="none" stroke="#37a935" stroke-width="1.5" stroke-linejoin="round" opacity="1.0"/>
<polyline points="214.3,354.3 214.7,355.4 215.1,354.5 215.5,356.4 215.9,355.3 216.3,355.3 216.7,355.4 217.1,355.7 217.5,355.3 217.9,355.2 218.3,355.1 218.7,355.7 219.1,355.7 219.5,355.8 219.9,355.6 220.3,355.6 220.7,354.7 221.1,356.0 221.5,356.7 221.9,355.7 222.3,356.0 222.7,356.0 223.1,356.9 223.5,355.7 223.9,355.1 224.3,354.0 224.7,354.9 225.1,355.1 225.5,355.7 225.9,355.3 226.3,356.1 226.7,356.0 227.1,357.0 227.5,357.3 227.9,357.7 228.3,358.1 228.7,358.4 229.1,358.1 229.5,358.3 229.9,358.1 230.3,358.8 230.7,357.9 231.1,358.5 231.5,358.9 231.9,359.2 232.3,357.9 232.7,358.5 233.1,358.4 233.5,358.1 233.9,357.6 234.3,359.1 234.7,357.7 235.1,358.7 235.5,357.0 235.9,357.6 236.3,356.3 236.7,354.6 237.1,354.0 237.5,352.3 237.9,351.7 238.3,350.9 238.7,348.4 239.1,347.1 239.5,344.9 239.9,344.4 240.3,344.3 240.7,341.1 241.1,341.5 241.5,339.7 241.9,338.2 242.3,335.9 242.7,335.2 243.1,335.0 243.5,333.4 243.9,332.3 244.3,331.6 244.7,330.5 245.1,329.5 245.5,328.4 245.9,327.9 246.3,326.3 246.7,326.1 247.1,325.0 247.5,323.3 247.9,323.5 248.3,322.9 248.7,321.4 249.1,322.4 249.5,321.0 249.9,320.7 250.3,321.3 250.7,320.5 251.1,320.7 251.5,320.0 251.9,320.9 252.3,319.8 252.7,319.2 253.1,318.8 253.5,319.2 253.9,319.2 254.3,319.3 254.7,318.9 255.1,319.1 255.5,319.1 255.9,318.5 256.3,318.6 256.7,318.0 257.1,318.3 257.5,317.6 257.9,317.1 258.3,316.2 258.7,316.3 259.1,316.4 259.5,315.8 259.9,316.2 260.3,316.6 260.7,316.1 261.1,315.7 261.5,316.7 261.9,316.5 262.3,315.5 262.7,315.9 263.1,316.0 263.5,315.1 263.9,316.3 264.3,314.7 264.7,314.5 265.1,314.8 265.5,315.1 265.9,314.6 266.3,314.6 266.7,315.4 267.1,314.8 267.5,314.8 267.9,315.5 268.3,314.4 268.7,315.3 269.1,314.9 269.5,314.5 269.9,314.4 270.3,314.9 270.7,314.6 271.1,313.9 271.5,313.8 271.9,314.8 272.3,314.3 272.7,313.6 273.1,313.8 273.5,313.8 273.9,314.0 274.3,314.4 274.7,314.4 275.1,313.9 275.5,314.3 275.9,313.7 276.3,312.5 276.7,313.8 277.1,313.0 277.5,313.8 277.9,312.9 278.3,314.1 278.7,313.3 279.1,314.0 279.5,313.5 279.9,313.2 280.3,313.0 280.7,313.8 281.1,313.3 281.5,313.4 281.9,314.4 282.3,313.3 282.7,313.3 283.1,313.0 283.5,313.5 283.9,312.8 284.3,313.5 284.7,313.8 285.1,312.8 285.5,312.7 285.9,312.8 286.3,312.9 286.7,312.2 287.1,312.8 287.5,312.4 287.9,312.0 288.3,312.6 288.7,312.0 289.1,312.5 289.5,312.8 289.9,312.1 290.3,313.5 290.7,311.7 291.1,312.3 291.5,311.9 291.9,312.2 292.3,312.7 292.7,311.7 293.1,311.7 293.5,312.5 293.9,312.5 294.3,312.4 294.7,311.5 295.1,313.1 295.5,311.5 295.9,310.9 296.3,311.3 296.7,311.8 297.1,311.5 297.5,311.0 297.9,312.4 298.3,312.1 298.7,311.2 299.1,312.8 299.5,312.2 299.9,311.8 300.3,312.1 300.7,311.5 301.1,312.5 301.5,311.2 301.9,310.9 302.3,311.3 302.7,311.3 303.1,313.1 303.5,311.3 303.9,312.9 304.3,312.1 304.7,312.1 305.1,312.2 305.5,312.1 305.9,312.5 306.3,312.3 306.7,311.9 307.1,312.1 307.5,311.9 307.9,311.7 308.3,311.5 308.7,311.8 309.1,311.4 309.5,311.5 309.9,310.9 310.3,312.1 310.7,310.8 311.1,312.6 311.5,312.4 311.9,312.3 312.3,311.6 312.7,311.3 313.1,312.4 313.5,311.7 313.9,311.7 314.3,311.3 314.7,312.4 315.1,311.5 315.5,311.6 315.9,311.0 316.3,312.2 316.7,311.8 317.1,311.6 317.5,311.4 317.9,311.9 318.3,311.9 318.7,312.3 319.1,310.5 319.5,311.6 319.9,312.4 320.3,311.2 320.7,310.8 321.1,311.7 321.5,311.1 321.9,310.9 322.3,312.2 322.7,311.1 323.1,312.1 323.5,311.5 323.9,311.8 324.3,312.1 324.7,311.9 325.1,310.9" fill="none" stroke="#c8102e" stroke-width="1.9" stroke-linejoin="round" opacity="1.0"/>
<polyline points="214.3,355.2 214.7,355.3 215.1,354.6 215.5,354.3 215.9,354.3 216.3,354.6 216.7,354.2 217.1,354.3 217.5,354.9 217.9,355.2 218.3,355.7 218.7,354.9 219.1,354.4 219.5,354.8 219.9,355.3 220.3,354.3 220.7,354.7 221.1,354.6 221.5,354.9 221.9,354.8 222.3,354.3 222.7,354.5 223.1,355.3 223.5,355.3 223.9,355.1 224.3,354.9 224.7,354.6 225.1,354.8 225.5,355.7 225.9,355.0 226.3,356.0 226.7,355.3 227.1,356.0 227.5,356.0 227.9,356.0 228.3,357.1 228.7,357.0 229.1,357.4 229.5,357.6 229.9,357.2 230.3,358.4 230.7,357.6 231.1,358.0 231.5,357.5 231.9,358.1 232.3,358.3 232.7,358.2 233.1,357.9 233.5,358.5 233.9,359.2 234.3,358.3 234.7,357.6 235.1,357.0 235.5,357.7 235.9,356.6 236.3,355.5 236.7,354.6 237.1,352.7 237.5,351.6 237.9,350.3 238.3,349.0 238.7,347.0 239.1,345.7 239.5,345.0 239.9,343.7 240.3,341.3 240.7,341.0 241.1,340.3 241.5,337.9 241.9,337.1 242.3,335.0 242.7,335.2 243.1,333.1 243.5,331.8 243.9,331.0 244.3,331.2 244.7,328.9 245.1,327.7 245.5,327.6 245.9,326.6 246.3,326.5 246.7,324.1 247.1,323.1 247.5,322.8 247.9,322.8 248.3,322.2 248.7,322.4 249.1,320.6 249.5,320.7 249.9,320.6 250.3,320.8 250.7,320.2 251.1,319.5 251.5,318.7 251.9,319.4 252.3,319.2 252.7,320.0 253.1,318.3 253.5,318.9 253.9,317.6 254.3,317.8 254.7,317.9 255.1,317.7 255.5,317.3 255.9,316.7 256.3,316.7 256.7,316.1 257.1,316.7 257.5,316.3 257.9,316.4 258.3,316.9 258.7,316.1 259.1,315.9 259.5,315.9 259.9,315.9 260.3,316.2 260.7,315.4 261.1,316.0 261.5,316.1 261.9,315.9 262.3,315.1 262.7,314.4 263.1,314.7 263.5,314.9 263.9,315.1 264.3,314.8 264.7,314.7 265.1,315.5 265.5,314.4 265.9,315.1 266.3,315.0 266.7,313.8 267.1,314.5 267.5,314.0 267.9,313.7 268.3,313.4 268.7,313.4 269.1,313.9 269.5,313.6 269.9,313.9 270.3,313.5 270.7,313.5 271.1,313.5 271.5,313.1 271.9,312.9 272.3,314.0 272.7,313.6 273.1,313.3 273.5,313.6 273.9,314.0 274.3,314.3 274.7,312.7 275.1,313.4 275.5,314.2 275.9,313.3 276.3,313.8 276.7,311.8 277.1,313.7 277.5,313.0 277.9,312.1 278.3,313.4 278.7,313.4 279.1,313.5 279.5,313.3 279.9,312.7 280.3,312.2 280.7,312.4 281.1,312.4 281.5,312.9 281.9,312.2 282.3,312.6 282.7,312.9 283.1,312.8 283.5,313.4 283.9,313.1 284.3,311.6 284.7,312.2 285.1,311.7 285.5,311.7 285.9,312.5 286.3,311.9 286.7,311.4 287.1,311.8 287.5,312.1 287.9,311.8 288.3,311.8 288.7,312.4 289.1,312.0 289.5,312.1 289.9,312.4 290.3,311.4 290.7,311.8 291.1,311.4 291.5,312.2 291.9,312.1 292.3,311.2 292.7,312.5 293.1,311.2 293.5,312.4 293.9,311.8 294.3,311.4 294.7,311.1 295.1,311.5 295.5,311.5 295.9,311.1 296.3,311.5 296.7,310.3 297.1,311.2 297.5,311.2 297.9,310.4 298.3,311.3 298.7,310.7 299.1,310.1 299.5,310.9 299.9,310.9 300.3,311.5 300.7,311.1 301.1,312.1 301.5,312.0 301.9,311.5 302.3,311.7 302.7,311.3 303.1,311.1 303.5,311.6 303.9,311.7 304.3,311.3 304.7,311.1 305.1,310.6 305.5,311.6 305.9,311.3 306.3,310.3 306.7,311.1 307.1,311.5 307.5,311.1 307.9,311.5 308.3,311.6 308.7,310.5 309.1,310.9 309.5,311.3 309.9,311.4 310.3,311.7 310.7,310.0 311.1,311.0 311.5,311.5 311.9,311.6 312.3,311.7 312.7,310.6 313.1,311.0 313.5,310.7 313.9,311.4 314.3,310.2 314.7,311.5 315.1,311.2 315.5,311.2 315.9,309.8 316.3,310.7 316.7,311.2 317.1,310.1 317.5,310.8 317.9,310.9 318.3,311.5 318.7,311.1 319.1,311.1 319.5,310.9 319.9,311.2 320.3,311.0 320.7,311.2 321.1,310.8 321.5,311.6 321.9,310.1 322.3,311.3 322.7,310.4 323.1,311.4 323.5,311.1 323.9,311.5 324.3,311.8 324.7,310.6 325.1,310.9" fill="none" stroke="#37a935" stroke-width="1.9" stroke-linejoin="round" opacity="1.0"/>
<polyline points="225.4,355.7 225.4,359.4" fill="none" stroke="#c8102e" stroke-width="1.0" stroke-linejoin="round" opacity="1.0"/>
<polyline points="252.7,319.9 252.7,324.8" fill="none" stroke="#c8102e" stroke-width="1.1" stroke-linejoin="round" opacity="1.0"/>
<polyline points="381.7,354.1 382.1,354.1 382.5,353.9 382.9,354.3 383.3,354.0 383.7,354.6 384.1,354.2 384.5,354.9 384.9,354.7 385.3,353.1 385.7,354.5 386.1,353.9 386.5,355.0 386.9,354.6 387.3,354.2 387.7,354.7 388.1,353.9 388.5,354.4 388.9,354.3 389.3,353.8 389.7,354.0 390.1,353.5 390.5,354.4 390.9,353.7 391.3,354.5 391.7,354.6 392.1,354.7 392.5,353.9 392.9,355.6 393.3,354.0 393.7,354.4 394.1,353.9 394.5,354.8 394.9,353.9 395.3,354.7 395.7,353.9 396.1,354.5 396.5,354.1 396.9,354.7 397.3,353.9 397.7,353.8 398.1,355.0 398.5,354.9 398.9,355.7 399.3,357.0 399.7,355.9 400.1,357.0 400.5,356.4 400.9,356.0 401.3,356.2 401.7,356.0 402.1,353.9 402.5,351.6 402.9,348.9 403.3,345.5 403.7,341.7 404.1,338.5 404.5,336.3 404.9,334.7 405.3,333.4 405.7,331.8 406.1,330.0 406.5,329.2 406.9,327.1 407.3,326.2 407.7,325.3 408.1,325.6 408.5,322.7 408.9,322.9 409.3,322.1 409.7,321.2 410.1,321.7 410.5,320.5 410.9,319.9 411.3,318.7 411.7,319.0 412.1,318.5 412.5,318.2 412.9,318.2 413.3,317.5 413.7,317.7 414.1,317.8 414.5,317.4 414.9,317.0 415.3,315.9 415.7,317.3 416.1,317.2 416.5,316.4 416.9,316.0 417.3,316.5 417.7,315.7 418.1,316.3 418.5,315.1 418.9,315.2 419.3,315.5 419.7,314.9 420.1,315.3 420.5,315.4 420.9,314.6 421.3,315.6 421.7,314.9 422.1,315.1 422.5,315.0 422.9,314.7 423.3,314.8 423.7,314.0 424.1,314.4 424.5,314.2 424.9,315.4 425.3,315.1 425.7,313.8 426.1,314.7 426.5,314.3 426.9,314.0 427.3,314.5 427.7,314.8 428.1,314.1 428.5,313.9 428.9,313.9 429.3,313.4 429.7,314.0 430.1,313.6 430.5,313.2 430.9,312.9 431.3,313.5 431.7,313.8 432.1,313.6 432.5,313.0 432.9,313.6 433.3,313.3 433.7,313.3 434.1,313.7 434.5,312.6 434.9,313.2 435.3,312.8 435.7,313.0 436.1,314.3 436.5,313.8 436.9,312.2 437.3,313.1 437.7,312.9 438.1,313.4 438.5,312.8 438.9,312.5 439.3,312.8 439.7,312.9 440.1,312.5 440.5,312.4 440.9,312.6 441.3,313.0 441.7,312.1 442.1,312.4 442.5,312.3 442.9,312.2 443.3,312.8 443.7,311.7 444.1,312.4 444.5,312.2 444.9,312.8 445.3,312.2 445.7,312.3 446.1,312.3 446.5,311.3 446.9,312.2 447.3,311.9 447.7,312.2 448.1,312.2 448.5,312.7 448.9,312.8 449.3,313.1 449.7,312.2 450.1,311.5 450.5,311.6 450.9,312.1 451.3,312.6 451.7,311.9 452.1,311.6 452.5,311.9 452.9,312.1 453.3,311.8 453.7,311.2 454.1,310.3 454.5,311.0 454.9,312.0 455.3,311.6 455.7,310.6 456.1,311.5 456.5,310.8 456.9,312.6 457.3,311.8 457.7,311.2 458.1,312.1 458.5,311.3 458.9,311.8 459.3,311.5 459.7,311.1 460.1,311.9 460.5,310.9 460.9,312.0 461.3,311.4 461.7,310.6 462.1,310.3 462.5,312.1 462.9,312.1 463.3,310.8 463.7,311.9 464.1,311.4 464.5,311.1 464.9,311.1 465.3,310.9 465.7,311.9 466.1,311.2 466.5,310.3 466.9,311.8 467.3,311.3 467.7,310.5 468.1,310.9 468.5,310.7 468.9,311.0 469.3,311.2 469.7,311.1 470.1,310.7 470.5,310.5 470.9,311.3 471.3,310.9 471.7,312.0 472.1,310.5 472.5,311.2 472.9,310.8 473.3,310.6 473.7,311.6 474.1,310.8 474.5,310.1 474.9,310.3 475.3,311.0 475.7,310.0 476.1,311.4 476.5,311.0 476.9,310.4 477.3,311.0 477.7,311.2 478.1,310.7 478.5,310.5 478.9,311.3 479.3,311.2 479.7,310.0 480.1,310.5 480.5,310.5 480.9,310.4 481.3,309.8 481.7,311.1 482.1,310.8 482.5,311.0 482.9,311.1 483.3,310.1 483.7,310.0 484.1,310.5 484.5,310.3 484.9,310.5 485.3,310.9 485.7,310.5 486.1,311.1 486.5,310.0 486.9,310.3 487.3,309.7 487.7,310.6 488.1,310.4 488.5,311.3 488.9,310.7 489.3,310.4 489.7,310.8 490.1,310.7 490.5,310.4 490.9,309.7 491.3,309.4 491.7,310.1 492.1,310.1 492.5,309.9" fill="none" stroke="#c8102e" stroke-width="2.0" stroke-linejoin="round" opacity="1.0"/>
<polyline points="381.7,356.1 382.1,356.7 382.5,355.7 382.9,356.7 383.3,356.6 383.7,356.3 384.1,356.0 384.5,356.8 384.9,357.1 385.3,356.3 385.7,356.8 386.1,357.4 386.5,356.2 386.9,356.4 387.3,355.9 387.7,356.5 388.1,356.5 388.5,356.2 388.9,356.1 389.3,355.8 389.7,356.1 390.1,356.1 390.5,356.7 390.9,355.9 391.3,355.8 391.7,356.5 392.1,356.6" fill="none" stroke="#37a935" stroke-width="1.9" stroke-linejoin="round" opacity="1.0"/>
<polyline points="392.2,356.3 392.2,361.6 397.1,361.6 397.1,356.3" fill="none" stroke="#3aa870" stroke-width="1.2" stroke-linejoin="round" opacity="1.0"/>
<polyline points="397.1,356.2 397.5,356.5 397.9,356.0 398.3,355.9 398.7,356.3 399.1,356.0 399.5,356.8 399.9,355.7 400.3,356.2 400.7,356.0 401.1,355.4 401.5,356.1 401.9,353.3 402.3,353.7 402.7,349.7 403.1,347.2 403.5,344.4 403.9,338.8 404.3,336.0 404.7,335.0 405.1,332.4 405.5,330.2 405.9,328.8 406.3,326.6 406.7,325.7 407.1,325.3 407.5,323.9 407.9,323.6 408.3,323.4 408.7,322.7 409.1,320.7 409.5,320.5 409.9,319.5 410.3,319.0 410.7,318.5 411.1,318.1 411.5,317.1 411.9,316.6 412.3,316.7 412.7,317.0 413.1,317.4 413.5,316.3 413.9,316.2 414.3,316.2 414.7,316.1 415.1,315.6 415.5,315.7 415.9,316.4 416.3,315.1 416.7,314.9 417.1,314.5 417.5,315.6 417.9,315.3 418.3,315.9 418.7,314.6 419.1,315.0 419.5,315.1 419.9,315.1 420.3,313.4 420.7,314.9 421.1,314.3 421.5,314.4 421.9,314.3 422.3,314.2 422.7,313.7 423.1,312.4 423.5,313.7 423.9,313.7 424.3,313.3 424.7,313.6 425.1,314.8 425.5,314.0 425.9,313.5 426.3,314.3 426.7,312.6 427.1,313.1 427.5,312.7 427.9,313.0 428.3,313.4 428.7,313.3 429.1,312.4 429.5,312.8 429.9,312.9 430.3,312.8 430.7,313.0 431.1,312.7 431.5,312.4 431.9,312.5 432.3,312.1 432.7,312.9 433.1,312.5 433.5,312.1 433.9,312.5 434.3,312.5 434.7,312.5 435.1,312.3 435.5,312.4 435.9,312.3 436.3,313.3 436.7,312.8 437.1,312.1 437.5,312.6 437.9,312.3 438.3,312.1 438.7,312.3 439.1,313.6 439.5,312.7 439.9,312.7 440.3,311.8 440.7,312.2 441.1,313.0 441.5,312.0 441.9,312.5 442.3,312.4 442.7,312.2 443.1,312.3 443.5,311.9 443.9,312.0 444.3,311.5 444.7,312.7 445.1,311.8 445.5,311.9 445.9,312.7 446.3,311.5 446.7,311.5 447.1,311.2 447.5,311.4 447.9,311.2 448.3,311.7 448.7,311.6 449.1,311.5 449.5,311.4 449.9,311.3 450.3,311.0 450.7,311.6 451.1,311.7 451.5,311.8 451.9,311.2 452.3,311.8 452.7,310.6 453.1,311.4 453.5,311.3 453.9,310.7 454.3,310.5 454.7,310.6 455.1,312.2 455.5,310.9 455.9,310.8 456.3,311.2 456.7,311.0 457.1,311.1 457.5,310.2 457.9,310.3 458.3,312.4 458.7,310.6 459.1,310.4 459.5,310.8 459.9,311.2 460.3,310.3 460.7,310.8 461.1,310.7 461.5,311.0 461.9,310.9 462.3,310.5 462.7,310.4 463.1,309.5 463.5,311.1 463.9,309.9 464.3,310.4 464.7,311.6 465.1,310.4 465.5,310.9 465.9,310.3 466.3,310.9 466.7,310.4 467.1,310.2 467.5,310.9 467.9,310.1 468.3,309.3 468.7,309.7 469.1,310.2 469.5,309.7 469.9,310.5 470.3,310.5 470.7,310.9 471.1,309.6 471.5,310.3 471.9,309.3 472.3,309.9 472.7,310.0 473.1,310.2 473.5,309.9 473.9,310.0 474.3,309.5 474.7,309.7 475.1,309.9 475.5,310.0 475.9,310.0 476.3,310.4 476.7,310.5 477.1,309.1 477.5,309.7 477.9,309.9 478.3,309.8 478.7,310.4 479.1,310.1 479.5,309.6 479.9,309.7 480.3,310.4 480.7,309.5 481.1,309.7 481.5,310.3 481.9,310.1 482.3,310.3 482.7,309.9 483.1,309.9 483.5,309.4 483.9,309.1 484.3,309.5 484.7,308.2 485.1,309.7 485.5,310.1 485.9,309.6 486.3,309.6 486.7,310.2 487.1,309.5 487.5,310.0 487.9,310.6 488.3,309.9 488.7,310.1 489.1,310.0 489.5,309.8 489.9,309.7 490.3,309.8 490.7,310.4 491.1,309.2 491.5,309.4 491.9,309.9 492.3,309.1 492.7,309.7" fill="none" stroke="#37a935" stroke-width="1.9" stroke-linejoin="round" opacity="1.0"/>
<line x1="47.20" y1="425.95" x2="47.20" y2="503.75" stroke="#231f20" stroke-width="1.15"/>
<line x1="44.60" y1="500.75" x2="47.20" y2="500.75" stroke="#231f20" stroke-width="0.8"/>
<text x="41.60" y="503.05" font-size="6.5" text-anchor="end" font-weight="normal" fill="#231f20" stroke="#231f20" stroke-width="0.1">–5</text>
<line x1="44.60" y1="482.30" x2="47.20" y2="482.30" stroke="#231f20" stroke-width="0.8"/>
<text x="41.60" y="484.60" font-size="6.5" text-anchor="end" font-weight="normal" fill="#231f20" stroke="#231f20" stroke-width="0.1">0</text>
<line x1="44.60" y1="463.85" x2="47.20" y2="463.85" stroke="#231f20" stroke-width="0.8"/>
<text x="41.60" y="466.15" font-size="6.5" text-anchor="end" font-weight="normal" fill="#231f20" stroke="#231f20" stroke-width="0.1">5</text>
<line x1="44.60" y1="445.40" x2="47.20" y2="445.40" stroke="#231f20" stroke-width="0.8"/>
<text x="41.60" y="447.70" font-size="6.5" text-anchor="end" font-weight="normal" fill="#231f20" stroke="#231f20" stroke-width="0.1">10</text>
<line x1="44.60" y1="426.95" x2="47.20" y2="426.95" stroke="#231f20" stroke-width="0.8"/>
<text x="41.60" y="429.25" font-size="6.5" text-anchor="end" font-weight="normal" fill="#231f20" stroke="#231f20" stroke-width="0.1">15</text>
<line x1="47.20" y1="482.30" x2="161.20" y2="482.30" stroke="#231f20" stroke-width="1.0"/>
<line x1="65.95" y1="482.30" x2="65.95" y2="484.90" stroke="#231f20" stroke-width="0.9"/>
<text x="65.95" y="494.20" font-size="6.5" text-anchor="middle" font-weight="normal" fill="#231f20" stroke="#231f20" stroke-width="0.1">100</text>
<line x1="84.40" y1="482.30" x2="84.40" y2="484.90" stroke="#231f20" stroke-width="0.9"/>
<text x="84.40" y="494.20" font-size="6.5" text-anchor="middle" font-weight="normal" fill="#231f20" stroke="#231f20" stroke-width="0.1">200</text>
<line x1="102.85" y1="482.30" x2="102.85" y2="484.90" stroke="#231f20" stroke-width="0.9"/>
<text x="102.85" y="494.20" font-size="6.5" text-anchor="middle" font-weight="normal" fill="#231f20" stroke="#231f20" stroke-width="0.1">300</text>
<line x1="121.30" y1="482.30" x2="121.30" y2="484.90" stroke="#231f20" stroke-width="0.9"/>
<text x="121.30" y="494.20" font-size="6.5" text-anchor="middle" font-weight="normal" fill="#231f20" stroke="#231f20" stroke-width="0.1">400</text>
<line x1="139.75" y1="482.30" x2="139.75" y2="484.90" stroke="#231f20" stroke-width="0.9"/>
<text x="139.75" y="494.20" font-size="6.5" text-anchor="middle" font-weight="normal" fill="#231f20" stroke="#231f20" stroke-width="0.1">500</text>
<line x1="158.20" y1="482.30" x2="158.20" y2="484.90" stroke="#231f20" stroke-width="0.9"/>
<text x="158.20" y="494.20" font-size="6.5" text-anchor="middle" font-weight="normal" fill="#231f20" stroke="#231f20" stroke-width="0.1">600</text>
<text x="104.40" y="419.20" font-size="8.2" text-anchor="middle" font-weight="normal" fill="#231f20" stroke="#231f20" stroke-width="0.15" textLength="76.7" lengthAdjust="spacingAndGlyphs">Thrombin, no inhibitor</text>
<text x="29.20" y="464.35" font-size="7.9" text-anchor="middle" font-weight="normal" fill="#231f20" stroke="#231f20" stroke-width="0.28" textLength="81.5" lengthAdjust="spacingAndGlyphs" transform="rotate(-90 29.200000000000003 464.35)">Percent of maximal aggregation</text>
<text x="104.20" y="505.60" font-size="8.0" text-anchor="middle" font-weight="normal" fill="#231f20" stroke="#231f20" stroke-width="0.35" textLength="21.3" lengthAdjust="spacingAndGlyphs">Time (s)</text>
<line x1="213.20" y1="425.95" x2="213.20" y2="503.75" stroke="#231f20" stroke-width="1.15"/>
<line x1="210.60" y1="500.75" x2="213.20" y2="500.75" stroke="#231f20" stroke-width="0.8"/>
<text x="207.60" y="503.05" font-size="6.5" text-anchor="end" font-weight="normal" fill="#231f20" stroke="#231f20" stroke-width="0.1">–5</text>
<line x1="210.60" y1="482.30" x2="213.20" y2="482.30" stroke="#231f20" stroke-width="0.8"/>
<text x="207.60" y="484.60" font-size="6.5" text-anchor="end" font-weight="normal" fill="#231f20" stroke="#231f20" stroke-width="0.1">0</text>
<line x1="210.60" y1="463.85" x2="213.20" y2="463.85" stroke="#231f20" stroke-width="0.8"/>
<text x="207.60" y="466.15" font-size="6.5" text-anchor="end" font-weight="normal" fill="#231f20" stroke="#231f20" stroke-width="0.1">5</text>
<line x1="210.60" y1="445.40" x2="213.20" y2="445.40" stroke="#231f20" stroke-width="0.8"/>
<text x="207.60" y="447.70" font-size="6.5" text-anchor="end" font-weight="normal" fill="#231f20" stroke="#231f20" stroke-width="0.1">10</text>
<line x1="210.60" y1="426.95" x2="213.20" y2="426.95" stroke="#231f20" stroke-width="0.8"/>
<text x="207.60" y="429.25" font-size="6.5" text-anchor="end" font-weight="normal" fill="#231f20" stroke="#231f20" stroke-width="0.1">15</text>
<line x1="213.20" y1="482.30" x2="327.20" y2="482.30" stroke="#231f20" stroke-width="1.0"/>
<line x1="232.15" y1="482.30" x2="232.15" y2="484.90" stroke="#231f20" stroke-width="0.9"/>
<text x="232.15" y="494.20" font-size="6.5" text-anchor="middle" font-weight="normal" fill="#231f20" stroke="#231f20" stroke-width="0.1">100</text>
<line x1="250.60" y1="482.30" x2="250.60" y2="484.90" stroke="#231f20" stroke-width="0.9"/>
<text x="250.60" y="494.20" font-size="6.5" text-anchor="middle" font-weight="normal" fill="#231f20" stroke="#231f20" stroke-width="0.1">200</text>
<line x1="269.05" y1="482.30" x2="269.05" y2="484.90" stroke="#231f20" stroke-width="0.9"/>
<text x="269.05" y="494.20" font-size="6.5" text-anchor="middle" font-weight="normal" fill="#231f20" stroke="#231f20" stroke-width="0.1">300</text>
<line x1="287.50" y1="482.30" x2="287.50" y2="484.90" stroke="#231f20" stroke-width="0.9"/>
<text x="287.50" y="494.20" font-size="6.5" text-anchor="middle" font-weight="normal" fill="#231f20" stroke="#231f20" stroke-width="0.1">400</text>
<line x1="305.95" y1="482.30" x2="305.95" y2="484.90" stroke="#231f20" stroke-width="0.9"/>
<text x="305.95" y="494.20" font-size="6.5" text-anchor="middle" font-weight="normal" fill="#231f20" stroke="#231f20" stroke-width="0.1">500</text>
<line x1="324.40" y1="482.30" x2="324.40" y2="484.90" stroke="#231f20" stroke-width="0.9"/>
<text x="324.40" y="494.20" font-size="6.5" text-anchor="middle" font-weight="normal" fill="#231f20" stroke="#231f20" stroke-width="0.1">600</text>
<text x="270.70" y="419.20" font-size="8.2" text-anchor="middle" font-weight="normal" fill="#231f20" stroke="#231f20" stroke-width="0.15" textLength="71.3" lengthAdjust="spacingAndGlyphs">Thrombin + Apyrase</text>
<text x="195.20" y="464.35" font-size="7.9" text-anchor="middle" font-weight="normal" fill="#231f20" stroke="#231f20" stroke-width="0.28" textLength="81.5" lengthAdjust="spacingAndGlyphs" transform="rotate(-90 195.2 464.35)">Percent of maximal aggregation</text>
<text x="270.20" y="505.60" font-size="8.0" text-anchor="middle" font-weight="normal" fill="#231f20" stroke="#231f20" stroke-width="0.35" textLength="21.3" lengthAdjust="spacingAndGlyphs">Time (s)</text>
<line x1="47.20" y1="585.55" x2="47.20" y2="663.35" stroke="#231f20" stroke-width="1.15"/>
<line x1="44.60" y1="660.35" x2="47.20" y2="660.35" stroke="#231f20" stroke-width="0.8"/>
<text x="41.60" y="662.65" font-size="6.5" text-anchor="end" font-weight="normal" fill="#231f20" stroke="#231f20" stroke-width="0.1">–5</text>
<line x1="44.60" y1="641.90" x2="47.20" y2="641.90" stroke="#231f20" stroke-width="0.8"/>
<text x="41.60" y="644.20" font-size="6.5" text-anchor="end" font-weight="normal" fill="#231f20" stroke="#231f20" stroke-width="0.1">0</text>
<line x1="44.60" y1="623.45" x2="47.20" y2="623.45" stroke="#231f20" stroke-width="0.8"/>
<text x="41.60" y="625.75" font-size="6.5" text-anchor="end" font-weight="normal" fill="#231f20" stroke="#231f20" stroke-width="0.1">5</text>
<line x1="44.60" y1="605.00" x2="47.20" y2="605.00" stroke="#231f20" stroke-width="0.8"/>
<text x="41.60" y="607.30" font-size="6.5" text-anchor="end" font-weight="normal" fill="#231f20" stroke="#231f20" stroke-width="0.1">10</text>
<line x1="44.60" y1="586.55" x2="47.20" y2="586.55" stroke="#231f20" stroke-width="0.8"/>
<text x="41.60" y="588.85" font-size="6.5" text-anchor="end" font-weight="normal" fill="#231f20" stroke="#231f20" stroke-width="0.1">15</text>
<line x1="47.20" y1="641.90" x2="161.20" y2="641.90" stroke="#231f20" stroke-width="1.0"/>
<line x1="65.95" y1="641.90" x2="65.95" y2="644.50" stroke="#231f20" stroke-width="0.9"/>
<text x="65.95" y="653.90" font-size="6.5" text-anchor="middle" font-weight="normal" fill="#231f20" stroke="#231f20" stroke-width="0.1">100</text>
<line x1="84.40" y1="641.90" x2="84.40" y2="644.50" stroke="#231f20" stroke-width="0.9"/>
<text x="84.40" y="653.90" font-size="6.5" text-anchor="middle" font-weight="normal" fill="#231f20" stroke="#231f20" stroke-width="0.1">200</text>
<line x1="102.85" y1="641.90" x2="102.85" y2="644.50" stroke="#231f20" stroke-width="0.9"/>
<text x="102.85" y="653.90" font-size="6.5" text-anchor="middle" font-weight="normal" fill="#231f20" stroke="#231f20" stroke-width="0.1">300</text>
<line x1="121.30" y1="641.90" x2="121.30" y2="644.50" stroke="#231f20" stroke-width="0.9"/>
<text x="121.30" y="653.90" font-size="6.5" text-anchor="middle" font-weight="normal" fill="#231f20" stroke="#231f20" stroke-width="0.1">400</text>
<line x1="139.75" y1="641.90" x2="139.75" y2="644.50" stroke="#231f20" stroke-width="0.9"/>
<text x="139.75" y="653.90" font-size="6.5" text-anchor="middle" font-weight="normal" fill="#231f20" stroke="#231f20" stroke-width="0.1">500</text>
<line x1="158.20" y1="641.90" x2="158.20" y2="644.50" stroke="#231f20" stroke-width="0.9"/>
<text x="158.20" y="653.90" font-size="6.5" text-anchor="middle" font-weight="normal" fill="#231f20" stroke="#231f20" stroke-width="0.1">600</text>
<text x="104.70" y="578.80" font-size="8.2" text-anchor="middle" font-weight="normal" fill="#231f20" stroke="#231f20" stroke-width="0.15" textLength="68" lengthAdjust="spacingAndGlyphs">Thrombin + Aspirin</text>
<text x="29.20" y="623.95" font-size="7.9" text-anchor="middle" font-weight="normal" fill="#231f20" stroke="#231f20" stroke-width="0.28" textLength="81.5" lengthAdjust="spacingAndGlyphs" transform="rotate(-90 29.200000000000003 623.95)">Percent of maximal aggregation</text>
<text x="104.20" y="665.20" font-size="8.0" text-anchor="middle" font-weight="normal" fill="#231f20" stroke="#231f20" stroke-width="0.35" textLength="21.3" lengthAdjust="spacingAndGlyphs">Time (s)</text>
<line x1="213.30" y1="585.55" x2="213.30" y2="663.35" stroke="#231f20" stroke-width="1.15"/>
<line x1="210.70" y1="660.35" x2="213.30" y2="660.35" stroke="#231f20" stroke-width="0.8"/>
<text x="207.70" y="662.65" font-size="6.5" text-anchor="end" font-weight="normal" fill="#231f20" stroke="#231f20" stroke-width="0.1">–5</text>
<line x1="210.70" y1="641.90" x2="213.30" y2="641.90" stroke="#231f20" stroke-width="0.8"/>
<text x="207.70" y="644.20" font-size="6.5" text-anchor="end" font-weight="normal" fill="#231f20" stroke="#231f20" stroke-width="0.1">0</text>
<line x1="210.70" y1="623.45" x2="213.30" y2="623.45" stroke="#231f20" stroke-width="0.8"/>
<text x="207.70" y="625.75" font-size="6.5" text-anchor="end" font-weight="normal" fill="#231f20" stroke="#231f20" stroke-width="0.1">5</text>
<line x1="210.70" y1="605.00" x2="213.30" y2="605.00" stroke="#231f20" stroke-width="0.8"/>
<text x="207.70" y="607.30" font-size="6.5" text-anchor="end" font-weight="normal" fill="#231f20" stroke="#231f20" stroke-width="0.1">10</text>
<line x1="210.70" y1="586.55" x2="213.30" y2="586.55" stroke="#231f20" stroke-width="0.8"/>
<text x="207.70" y="588.85" font-size="6.5" text-anchor="end" font-weight="normal" fill="#231f20" stroke="#231f20" stroke-width="0.1">15</text>
<line x1="213.30" y1="641.90" x2="327.30" y2="641.90" stroke="#231f20" stroke-width="1.0"/>
<line x1="232.25" y1="641.90" x2="232.25" y2="644.50" stroke="#231f20" stroke-width="0.9"/>
<text x="232.25" y="653.90" font-size="6.5" text-anchor="middle" font-weight="normal" fill="#231f20" stroke="#231f20" stroke-width="0.1">100</text>
<line x1="250.70" y1="641.90" x2="250.70" y2="644.50" stroke="#231f20" stroke-width="0.9"/>
<text x="250.70" y="653.90" font-size="6.5" text-anchor="middle" font-weight="normal" fill="#231f20" stroke="#231f20" stroke-width="0.1">200</text>
<line x1="269.15" y1="641.90" x2="269.15" y2="644.50" stroke="#231f20" stroke-width="0.9"/>
<text x="269.15" y="653.90" font-size="6.5" text-anchor="middle" font-weight="normal" fill="#231f20" stroke="#231f20" stroke-width="0.1">300</text>
<line x1="287.60" y1="641.90" x2="287.60" y2="644.50" stroke="#231f20" stroke-width="0.9"/>
<text x="287.60" y="653.90" font-size="6.5" text-anchor="middle" font-weight="normal" fill="#231f20" stroke="#231f20" stroke-width="0.1">400</text>
<line x1="306.05" y1="641.90" x2="306.05" y2="644.50" stroke="#231f20" stroke-width="0.9"/>
<text x="306.05" y="653.90" font-size="6.5" text-anchor="middle" font-weight="normal" fill="#231f20" stroke="#231f20" stroke-width="0.1">500</text>
<line x1="324.50" y1="641.90" x2="324.50" y2="644.50" stroke="#231f20" stroke-width="0.9"/>
<text x="324.50" y="653.90" font-size="6.5" text-anchor="middle" font-weight="normal" fill="#231f20" stroke="#231f20" stroke-width="0.1">600</text>
<text x="270.60" y="578.50" font-size="8.2" text-anchor="middle" font-weight="normal" fill="#231f20" stroke="#231f20" stroke-width="0.15" textLength="107.3" lengthAdjust="spacingAndGlyphs">Thrombin + Apyrase + Aspirin</text>
<text x="195.30" y="623.95" font-size="7.9" text-anchor="middle" font-weight="normal" fill="#231f20" stroke="#231f20" stroke-width="0.28" textLength="81.5" lengthAdjust="spacingAndGlyphs" transform="rotate(-90 195.3 623.95)">Percent of maximal aggregation</text>
<text x="270.30" y="665.20" font-size="8.0" text-anchor="middle" font-weight="normal" fill="#231f20" stroke="#231f20" stroke-width="0.35" textLength="21.3" lengthAdjust="spacingAndGlyphs">Time (s)</text>
<polyline points="47.5,487.8 47.8,488.0 48.1,486.5 48.4,489.0 48.7,487.9 49.0,488.1 49.3,488.5 49.6,487.8 49.9,489.0 50.2,490.7 50.5,491.0 50.8,491.1 51.1,491.2 51.4,488.5 51.7,489.6 52.0,490.3 52.3,491.0 52.6,487.2 52.9,486.5 53.2,487.6" fill="none" stroke="#c8102e" stroke-width="1.6" stroke-linejoin="round" opacity="1.0"/>
<polyline points="47.5,484.2 47.8,480.7 48.1,480.1 48.4,483.1 48.7,484.0 49.0,481.0 49.3,481.6 49.6,480.8 49.9,480.2 50.2,480.1 50.5,482.7 50.8,482.3 51.1,481.9 51.4,478.6 51.7,484.9 52.0,480.4 52.3,482.1 52.6,481.2 52.9,483.8 53.2,480.8" fill="none" stroke="#37a935" stroke-width="2.0" stroke-linejoin="round" opacity="1.0"/>
<polyline points="53.6,501.9 53.6,442.4" fill="none" stroke="#4f9a34" stroke-width="1.2" stroke-linejoin="round" opacity="1.0"/>
<polyline points="53.8,442.6 54.1,442.7 54.4,442.1 54.7,442.5 55.0,441.8 55.3,442.0 55.6,442.9 55.9,443.1 56.2,443.7 56.5,441.9 56.8,441.3 57.1,443.5 57.4,441.6 57.7,442.1 58.0,442.1 58.3,443.1 58.6,443.5 58.9,442.7 59.2,443.3 59.5,441.1 59.8,441.3 60.1,440.8 60.4,441.0 60.7,441.2 61.0,442.2 61.3,441.7 61.6,442.1 61.9,440.9 62.2,443.5 62.5,443.0 62.8,441.2 63.1,443.2 63.4,442.7 63.7,441.9 64.0,440.5 64.3,441.9 64.6,441.8 64.9,444.1 65.2,441.8 65.5,442.3 65.8,441.6 66.1,442.5 66.4,443.6 66.7,441.6 67.0,441.4 67.3,443.7 67.6,444.4 67.9,443.5 68.2,445.0 68.5,445.3 68.8,442.0 69.1,444.8 69.4,446.3 69.7,444.3 70.0,444.3 70.3,445.0 70.6,444.2 70.9,441.9 71.2,444.5 71.5,443.1 71.8,445.1 72.1,443.5 72.4,446.1 72.7,444.2 73.0,445.1 73.3,444.0 73.6,444.7 73.9,447.1 74.2,446.8 74.5,446.9 74.8,445.5 75.1,444.6 75.4,445.7 75.7,445.9 76.0,444.8 76.3,447.6 76.6,444.9 76.9,446.5 77.2,446.6 77.5,446.3 77.8,445.3 78.1,446.2 78.4,445.1 78.7,445.5 79.0,445.9 79.3,447.8 79.6,445.6 79.9,449.6 80.2,446.6 80.5,448.2 80.8,447.7 81.1,444.8 81.4,446.6 81.7,447.9 82.0,443.7 82.3,447.1 82.6,446.5 82.9,446.1 83.2,447.1 83.5,445.4 83.8,446.2 84.1,446.6 84.4,447.2 84.7,448.2 85.0,450.6 85.3,447.8 85.6,447.8 85.9,447.5 86.2,447.8 86.5,448.9 86.8,449.2 87.1,447.2 87.4,448.9 87.7,447.8 88.0,450.4 88.3,445.3 88.6,447.3 88.9,447.5 89.2,446.5 89.5,446.9 89.8,446.7 90.1,447.7 90.4,448.4 90.7,447.5 91.0,447.1 91.3,449.1 91.6,448.9 91.9,447.2 92.2,447.5 92.5,447.2 92.8,451.4 93.1,449.5 93.4,447.9 93.7,449.2 94.0,449.9 94.3,449.4 94.6,446.2 94.9,447.9 95.2,446.8 95.5,447.8 95.8,445.9 96.1,448.0 96.4,447.6 96.7,448.8 97.0,450.1 97.3,447.6 97.6,445.7 97.9,447.3 98.2,449.5 98.5,449.2 98.8,449.3 99.1,445.4 99.4,448.6 99.7,448.2 100.0,448.0 100.3,447.2 100.6,447.5 100.9,448.1 101.2,450.3 101.5,449.0 101.8,448.7 102.1,448.2 102.4,447.5 102.7,448.0 103.0,447.6 103.3,448.2 103.6,449.9 103.9,448.7 104.2,448.7 104.5,449.3 104.8,448.1 105.1,447.6 105.4,446.6 105.7,448.1 106.0,448.6 106.3,449.0 106.6,449.7 106.9,448.0 107.2,447.7 107.5,448.1 107.8,448.7 108.1,447.1 108.4,448.7 108.7,450.0 109.0,448.7 109.3,448.7 109.6,446.7 109.9,450.0 110.2,449.8 110.5,450.0 110.8,448.1 111.1,446.3 111.4,448.1 111.7,448.9 112.0,448.8 112.3,447.6 112.6,450.5 112.9,447.6 113.2,449.8 113.5,447.4 113.8,449.3 114.1,449.9 114.4,448.4 114.7,447.1 115.0,447.0 115.3,449.0 115.6,448.0 115.9,446.9 116.2,450.0 116.5,447.6 116.8,448.0 117.1,447.3 117.4,445.7 117.7,447.2 118.0,449.9 118.3,447.0 118.6,448.0 118.9,448.0 119.2,448.5 119.5,448.6 119.8,447.7 120.1,449.4 120.4,447.4 120.7,447.1 121.0,446.4 121.3,448.5 121.6,448.4 121.9,448.6 122.2,450.9 122.5,448.2 122.8,447.7 123.1,449.4 123.4,450.7 123.7,448.0 124.0,448.6 124.3,448.9 124.6,447.7 124.9,449.0 125.2,447.5 125.5,447.0 125.8,450.1 126.1,449.3 126.4,448.5 126.7,448.3 127.0,449.9 127.3,448.1 127.6,448.8 127.9,449.3 128.2,450.6 128.5,450.4 128.8,450.1 129.1,448.1 129.4,448.7 129.7,447.4 130.0,450.2 130.3,448.8 130.6,448.5 130.9,449.5 131.2,446.5 131.5,446.7 131.8,446.8 132.1,445.8 132.4,446.2 132.7,447.3 133.0,449.4 133.3,448.2 133.6,448.1 133.9,449.2 134.2,446.6 134.5,449.7 134.8,447.7 135.1,448.3 135.4,448.5 135.7,449.3 136.0,448.5 136.3,447.1 136.6,448.0 136.9,447.5 137.2,449.3 137.5,448.9 137.8,448.6 138.1,448.1 138.4,448.3 138.7,450.2 139.0,446.6 139.3,449.6 139.6,448.6 139.9,448.5 140.2,448.0 140.5,447.1 140.8,448.9 141.1,448.1 141.4,448.9 141.7,447.3 142.0,449.3 142.3,449.7 142.6,445.0 142.9,446.1 143.2,448.1 143.5,448.7 143.8,447.7 144.1,449.2 144.4,449.3 144.7,449.1 145.0,449.3 145.3,448.5 145.6,450.5 145.9,447.2 146.2,449.0 146.5,447.6 146.8,450.2 147.1,451.1 147.4,448.6 147.7,446.3 148.0,447.9 148.3,450.2 148.6,447.8 148.9,448.4 149.2,448.9 149.5,445.9 149.8,449.6 150.1,446.6 150.4,447.0 150.7,450.5 151.0,448.7 151.3,446.9 151.6,447.6 151.9,448.1 152.2,449.3 152.5,451.3 152.8,449.3 153.1,449.6 153.4,450.7" fill="none" stroke="#37a935" stroke-width="2.2" stroke-linejoin="round" opacity="1.0"/>
<polyline points="54.1,450.7 54.4,450.6 54.7,450.6 55.0,449.2 55.3,450.8 55.6,450.9 55.9,453.2 56.2,451.4 56.5,452.2 56.8,452.6 57.1,454.0 57.4,454.2 57.7,454.3 58.0,456.0 58.3,454.4 58.6,456.5 58.9,454.5 59.2,455.0 59.5,457.9 59.8,454.5 60.1,456.0 60.4,457.5 60.7,458.0 61.0,457.1 61.3,457.5 61.6,456.4 61.9,458.1 62.2,455.4 62.5,458.8 62.8,455.0 63.1,455.5 63.4,459.9 63.7,458.4 64.0,456.9 64.3,460.1 64.6,459.3 64.9,460.0 65.2,458.3 65.5,459.9 65.8,460.4 66.1,458.5 66.4,459.7 66.7,459.3 67.0,459.9 67.3,460.6 67.6,460.1 67.9,458.7 68.2,459.3 68.5,460.4 68.8,460.3 69.1,460.2 69.4,460.8 69.7,460.0 70.0,460.4 70.3,459.9 70.6,458.9 70.9,458.5 71.2,461.1 71.5,460.2 71.8,460.3 72.1,460.3 72.4,458.6 72.7,460.4 73.0,458.5 73.3,461.1 73.6,458.0 73.9,462.7 74.2,460.2 74.5,461.5 74.8,460.7 75.1,461.7 75.4,460.4 75.7,462.1 76.0,460.9 76.3,463.3 76.6,460.8 76.9,458.0 77.2,462.3 77.5,463.0 77.8,461.6 78.1,465.7 78.4,461.5 78.7,461.6 79.0,460.7 79.3,461.9 79.6,460.6 79.9,460.0 80.2,458.9 80.5,462.1 80.8,460.7 81.1,461.9 81.4,462.2 81.7,459.4 82.0,461.6 82.3,460.9 82.6,460.8 82.9,462.4 83.2,462.1 83.5,460.4 83.8,460.4 84.1,461.0 84.4,461.5 84.7,464.1 85.0,463.0 85.3,463.6 85.6,462.6 85.9,461.6 86.2,462.0 86.5,461.1 86.8,461.9 87.1,460.7 87.4,462.1 87.7,464.5 88.0,460.3 88.3,461.2 88.6,460.9 88.9,462.9 89.2,464.4 89.5,462.1 89.8,459.6 90.1,462.9 90.4,463.1 90.7,460.2 91.0,462.6 91.3,463.3 91.6,460.1 91.9,462.3 92.2,462.0 92.5,463.0 92.8,461.4 93.1,461.2 93.4,460.7 93.7,461.8 94.0,459.7 94.3,462.9 94.6,460.4 94.9,458.9 95.2,464.1 95.5,462.0 95.8,462.1 96.1,461.5 96.4,460.6 96.7,462.6 97.0,458.6 97.3,461.3 97.6,463.0 97.9,462.6 98.2,461.1 98.5,461.3 98.8,464.7 99.1,462.0 99.4,462.8 99.7,463.4 100.0,461.5 100.3,462.1 100.6,459.7 100.9,463.1 101.2,459.3 101.5,460.2 101.8,461.6 102.1,462.0 102.4,461.3 102.7,461.7 103.0,461.2 103.3,461.5 103.6,460.7 103.9,459.7 104.2,461.8 104.5,459.0 104.8,461.6 105.1,462.0 105.4,461.4 105.7,462.4 106.0,463.6 106.3,460.8 106.6,460.7 106.9,459.8 107.2,463.1 107.5,462.6 107.8,460.4 108.1,461.3 108.4,461.5 108.7,463.9 109.0,461.0 109.3,462.2 109.6,463.7 109.9,459.0 110.2,460.8 110.5,462.7 110.8,460.4 111.1,463.7 111.4,463.0 111.7,461.0 112.0,461.8 112.3,463.1 112.6,462.2 112.9,461.1 113.2,461.5 113.5,460.6 113.8,462.5 114.1,463.5 114.4,464.4 114.7,462.1 115.0,461.9 115.3,462.5 115.6,461.5 115.9,464.4 116.2,462.4 116.5,460.7 116.8,464.8 117.1,462.4 117.4,461.4 117.7,462.5 118.0,460.4 118.3,462.1 118.6,463.5 118.9,463.1 119.2,461.4 119.5,462.2 119.8,460.8 120.1,463.1 120.4,463.2 120.7,463.5 121.0,462.3 121.3,463.6 121.6,464.9 121.9,462.5 122.2,460.6 122.5,460.5 122.8,460.2 123.1,461.7 123.4,461.1 123.7,462.9 124.0,461.7 124.3,460.5 124.6,461.0 124.9,462.4 125.2,463.0 125.5,459.2 125.8,460.9 126.1,463.2 126.4,460.7 126.7,461.6 127.0,462.6 127.3,463.0 127.6,462.5 127.9,460.8 128.2,463.3 128.5,461.8 128.8,461.5 129.1,464.8 129.4,463.0 129.7,462.0 130.0,462.5 130.3,462.2 130.6,461.4 130.9,460.4 131.2,463.3 131.5,463.2 131.8,462.3 132.1,461.6 132.4,462.4 132.7,462.7 133.0,461.5 133.3,461.5 133.6,461.4 133.9,462.6 134.2,462.0 134.5,460.4 134.8,460.6 135.1,464.1 135.4,460.9 135.7,463.1 136.0,461.5 136.3,463.2 136.6,462.2 136.9,461.5 137.2,460.3 137.5,461.3 137.8,463.2 138.1,462.5 138.4,460.4 138.7,463.2 139.0,461.4 139.3,460.1 139.6,461.5 139.9,461.6 140.2,461.2 140.5,460.6 140.8,461.8 141.1,462.0 141.4,461.0 141.7,461.9 142.0,461.2 142.3,463.4 142.6,462.9 142.9,463.0 143.2,460.8 143.5,463.2 143.8,462.7 144.1,460.4 144.4,461.6 144.7,457.7 145.0,461.4 145.3,462.3 145.6,461.7 145.9,463.3 146.2,461.6 146.5,461.4 146.8,461.3 147.1,463.4 147.4,461.5 147.7,461.5 148.0,463.3 148.3,463.1 148.6,464.1 148.9,461.8 149.2,461.2 149.5,463.5 149.8,463.6 150.1,461.3 150.4,463.3 150.7,464.0 151.0,461.5 151.3,462.0 151.6,459.6 151.9,462.3 152.2,462.1 152.5,462.8" fill="none" stroke="#c8102e" stroke-width="2.2" stroke-linejoin="round" opacity="1.0"/>
<polyline points="213.7,484.1 214.0,482.9 214.3,481.2 214.6,483.6 214.9,484.5 215.2,484.0 215.5,484.6 215.8,483.4 216.1,482.9 216.4,485.3 216.7,484.6 217.0,483.5 217.3,483.8 217.6,481.0 217.9,483.0 218.2,483.2 218.5,484.0 218.8,480.5 219.1,481.8 219.4,483.4 219.7,482.4 220.0,480.7 220.3,482.2 220.6,478.4 220.9,481.2 221.2,480.9 221.5,482.4 221.8,480.0 222.1,478.3 222.4,479.3 222.7,477.1 223.0,479.0 223.3,476.4 223.6,478.2 223.9,476.0 224.2,476.2 224.5,476.6 224.8,476.7 225.1,474.6 225.4,478.0 225.7,480.6 226.0,483.1 226.3,484.9 226.6,488.2 226.9,487.2 227.2,489.3 227.5,492.3 227.8,490.0 228.1,490.4 228.4,488.8 228.7,489.9 229.0,490.2 229.3,493.7 229.6,493.1 229.9,491.4 230.2,494.8 230.5,493.5 230.8,492.4 231.1,493.4 231.4,493.3 231.7,492.2 232.0,491.7 232.3,491.4 232.6,492.3 232.9,492.3 233.2,492.0 233.5,494.1 233.8,491.7 234.1,493.8 234.4,491.8 234.7,493.1 235.0,491.2 235.3,493.0 235.6,491.9 235.9,491.5 236.2,493.9 236.5,494.0 236.8,493.8 237.1,493.8 237.4,492.6 237.7,492.6 238.0,490.7 238.3,492.8 238.6,495.7 238.9,495.2 239.2,494.6 239.5,493.2 239.8,494.0 240.1,494.4 240.4,492.9 240.7,493.0 241.0,495.1 241.3,494.7 241.6,494.5 241.9,495.0 242.2,493.5 242.5,494.1 242.8,493.6 243.1,492.2 243.4,493.6 243.7,493.8 244.0,493.7 244.3,494.6 244.6,492.2 244.9,493.3 245.2,495.4 245.5,494.5 245.8,495.6 246.1,496.1 246.4,493.6 246.7,494.9 247.0,496.2 247.3,494.9 247.6,493.8 247.9,495.9 248.2,495.2 248.5,496.3 248.8,493.4 249.1,495.0 249.4,494.5 249.7,495.2 250.0,493.3 250.3,493.9 250.6,495.2 250.9,494.8 251.2,492.7 251.5,495.4 251.8,494.0 252.1,494.6 252.4,493.7 252.7,492.4 253.0,494.7 253.3,493.8 253.6,492.7 253.9,494.3 254.2,495.3 254.5,493.7 254.8,495.9 255.1,494.7 255.4,494.3 255.7,495.3 256.0,494.3 256.3,493.7 256.6,493.2 256.9,494.9 257.2,495.7 257.5,493.7 257.8,495.9 258.1,491.6 258.4,493.9 258.7,496.1 259.0,496.0 259.3,493.7 259.6,495.8 259.9,492.7 260.2,495.0 260.5,495.2 260.8,494.6 261.1,492.0 261.4,495.2 261.7,495.7 262.0,495.8 262.3,496.0 262.6,493.7 262.9,495.5 263.2,497.2 263.5,494.4 263.8,495.8 264.1,494.0 264.4,494.3 264.7,495.3 265.0,495.0 265.3,497.6 265.6,495.4 265.9,495.3 266.2,494.1 266.5,495.2 266.8,494.6 267.1,493.5 267.4,492.4 267.7,495.7 268.0,494.3 268.3,492.0 268.6,491.1 268.9,494.7 269.2,495.2 269.5,494.5 269.8,492.2 270.1,494.3 270.4,494.0 270.7,494.0 271.0,493.8 271.3,494.8 271.6,494.4 271.9,496.4 272.2,494.4 272.5,495.4 272.8,492.6 273.1,493.9 273.4,494.0 273.7,494.0 274.0,496.5 274.3,494.8 274.6,495.8 274.9,495.2 275.2,496.1 275.5,495.2 275.8,495.4 276.1,494.5 276.4,495.5 276.7,494.7 277.0,494.0 277.3,494.1 277.6,498.3 277.9,494.9 278.2,495.3 278.5,494.5 278.8,494.0 279.1,497.3 279.4,493.2 279.7,494.3 280.0,494.7 280.3,493.5 280.6,491.0 280.9,493.5 281.2,494.2 281.5,493.5 281.8,495.0 282.1,492.9 282.4,494.2 282.7,496.2 283.0,495.3 283.3,493.6 283.6,491.1 283.9,494.7 284.2,495.2 284.5,493.7 284.8,495.8 285.1,494.2 285.4,495.9 285.7,493.0 286.0,495.5 286.3,493.6 286.6,493.9 286.9,495.8 287.2,493.7 287.5,492.7 287.8,495.0 288.1,494.6 288.4,492.5 288.7,494.0 289.0,493.2 289.3,493.3 289.6,493.8 289.9,494.5 290.2,493.8 290.5,497.1 290.8,493.9 291.1,493.6 291.4,495.8 291.7,497.2 292.0,494.2 292.3,493.9 292.6,492.4 292.9,494.3 293.2,493.4 293.5,494.1 293.8,494.1 294.1,495.1 294.4,494.7 294.7,496.4 295.0,495.8 295.3,494.6 295.6,493.9 295.9,496.0 296.2,495.3 296.5,495.0 296.8,496.2 297.1,495.7 297.4,494.1 297.7,495.6 298.0,492.8 298.3,491.2 298.6,495.2 298.9,494.1 299.2,493.0 299.5,494.6 299.8,494.3 300.1,492.4 300.4,493.6 300.7,492.8 301.0,493.2 301.3,493.2 301.6,494.3 301.9,494.1 302.2,494.3 302.5,493.4 302.8,493.1 303.1,492.0 303.4,495.8 303.7,494.0 304.0,492.4 304.3,493.2 304.6,493.4 304.9,493.5 305.2,494.2 305.5,495.1 305.8,493.5 306.1,492.2 306.4,491.6 306.7,495.6 307.0,493.0 307.3,495.0 307.6,492.5 307.9,493.9 308.2,493.5 308.5,492.0 308.8,493.2 309.1,495.6 309.4,494.1 309.7,494.6 310.0,494.2 310.3,494.8 310.6,494.9 310.9,493.7 311.2,495.8 311.5,493.5 311.8,493.2 312.1,492.1 312.4,492.2 312.7,491.1 313.0,493.7 313.3,491.7 313.6,496.1 313.9,494.5 314.2,493.2 314.5,493.7 314.8,494.2 315.1,494.2 315.4,494.4 315.7,491.6 316.0,492.1 316.3,493.2 316.6,493.2 316.9,493.1 317.2,492.0 317.5,492.0 317.8,492.9 318.1,492.9 318.4,494.5 318.7,494.2 319.0,495.0 319.3,492.9" fill="none" stroke="#c8102e" stroke-width="2.1" stroke-linejoin="round" opacity="1.0"/>
<polyline points="224.2,501.5 224.2,474.9" fill="none" stroke="#7a9a6a" stroke-width="1.1" stroke-linejoin="round" opacity="1.0"/>
<polyline points="225.9,501.5 225.9,480.5" fill="none" stroke="#b0202a" stroke-width="1.0" stroke-linejoin="round" opacity="1.0"/>
<polyline points="213.7,482.7 214.0,485.2 214.3,482.9 214.6,483.7 214.9,485.1 215.2,481.8 215.5,480.4 215.8,481.8 216.1,481.3 216.4,478.1 216.7,478.4 217.0,479.1 217.3,482.3 217.6,481.6 217.9,483.7 218.2,483.0 218.5,481.7 218.8,481.2 219.1,481.1 219.4,482.7 219.7,480.7 220.0,480.1 220.3,478.6 220.6,480.3 220.9,480.3 221.2,478.6 221.5,480.4 221.8,479.5 222.1,479.6 222.4,478.8 222.7,479.6 223.0,478.5 223.3,479.4 223.6,478.4 223.9,473.7 224.2,470.6 224.5,466.9 224.8,468.8 225.1,468.1 225.4,465.9 225.7,467.6 226.0,468.7 226.3,469.6 226.6,469.6 226.9,473.7 227.2,469.5 227.5,470.9 227.8,469.2 228.1,469.5 228.4,471.1 228.7,470.3 229.0,470.9 229.3,473.4 229.6,471.6 229.9,469.5 230.2,474.1 230.5,470.8 230.8,476.2 231.1,477.7 231.4,473.2 231.7,474.8 232.0,476.7 232.3,475.3 232.6,471.7 232.9,476.1 233.2,475.4 233.5,473.8 233.8,478.5 234.1,473.1 234.4,476.7 234.7,474.6 235.0,475.5 235.3,473.3 235.6,475.1 235.9,475.7 236.2,473.8 236.5,475.0 236.8,475.9 237.1,476.5 237.4,478.6 237.7,475.6 238.0,473.5 238.3,476.4 238.6,478.6 238.9,477.4 239.2,477.0 239.5,473.8 239.8,475.3 240.1,477.6 240.4,473.7 240.7,479.1 241.0,475.1 241.3,476.6 241.6,477.4 241.9,478.0 242.2,474.8 242.5,476.2 242.8,473.4 243.1,476.8 243.4,477.7 243.7,476.1 244.0,476.6 244.3,476.5 244.6,476.8 244.9,476.2 245.2,476.1 245.5,475.6 245.8,475.6 246.1,475.9 246.4,475.2 246.7,475.9 247.0,476.7 247.3,479.1 247.6,479.9 247.9,478.0 248.2,478.1 248.5,477.6 248.8,477.2 249.1,476.5 249.4,475.2 249.7,473.4 250.0,477.7 250.3,478.6 250.6,476.1 250.9,480.5 251.2,479.7 251.5,477.1 251.8,479.2 252.1,476.0 252.4,476.7 252.7,477.1 253.0,478.5 253.3,474.9 253.6,475.9 253.9,479.6 254.2,478.7 254.5,478.5 254.8,478.3 255.1,477.5 255.4,477.5 255.7,477.5 256.0,475.6 256.3,480.5 256.6,475.2 256.9,474.5 257.2,474.0 257.5,475.0 257.8,479.9 258.1,477.5 258.4,480.5 258.7,480.7 259.0,479.7 259.3,479.1 259.6,478.0 259.9,477.9 260.2,477.9 260.5,478.1 260.8,476.1 261.1,480.4 261.4,480.0 261.7,478.8 262.0,476.7 262.3,478.6 262.6,479.4 262.9,477.7 263.2,475.1 263.5,477.1 263.8,479.9 264.1,475.2 264.4,478.5 264.7,475.5 265.0,478.7 265.3,479.9 265.6,478.7 265.9,479.7 266.2,477.8 266.5,477.8 266.8,480.8 267.1,479.8 267.4,477.3 267.7,479.0 268.0,478.8 268.3,480.7 268.6,477.9 268.9,479.9 269.2,478.2 269.5,477.5 269.8,480.6 270.1,477.6 270.4,477.4 270.7,476.7 271.0,477.6 271.3,477.5 271.6,476.9 271.9,480.6 272.2,479.5 272.5,479.5 272.8,476.4 273.1,478.1 273.4,478.7 273.7,480.4 274.0,478.1 274.3,478.5 274.6,478.1 274.9,476.1 275.2,476.4 275.5,476.9 275.8,477.1 276.1,476.8 276.4,481.0 276.7,480.3 277.0,477.0 277.3,478.3 277.6,475.9 277.9,477.6 278.2,479.8 278.5,476.8 278.8,479.7 279.1,478.8 279.4,480.6 279.7,481.6 280.0,479.2 280.3,479.0 280.6,478.6 280.9,477.7 281.2,476.9 281.5,479.1 281.8,478.2 282.1,476.0 282.4,478.0 282.7,477.0 283.0,477.6 283.3,478.6 283.6,481.0 283.9,478.3 284.2,481.1 284.5,479.5 284.8,478.3 285.1,479.2 285.4,480.2 285.7,478.0 286.0,479.5 286.3,480.0 286.6,480.4 286.9,478.9 287.2,478.2 287.5,475.9 287.8,479.3 288.1,479.3 288.4,481.5 288.7,477.1 289.0,478.0 289.3,478.8 289.6,480.5 289.9,475.8 290.2,477.6 290.5,484.6 290.8,479.5 291.1,476.6 291.4,479.5 291.7,480.8 292.0,480.3 292.3,478.7 292.6,478.4 292.9,479.5 293.2,477.7 293.5,479.1 293.8,478.7 294.1,478.8 294.4,481.8 294.7,477.9 295.0,480.3 295.3,477.9 295.6,478.8 295.9,477.9 296.2,479.0 296.5,479.2 296.8,481.6 297.1,481.8 297.4,481.6 297.7,478.2 298.0,480.2 298.3,478.4 298.6,480.9 298.9,477.9 299.2,481.1 299.5,478.3 299.8,480.2 300.1,477.0 300.4,480.3 300.7,479.1 301.0,477.5 301.3,477.1 301.6,477.9 301.9,479.7 302.2,475.4 302.5,477.8 302.8,480.0 303.1,479.4 303.4,480.1 303.7,480.7 304.0,478.0 304.3,480.4 304.6,478.4 304.9,479.1 305.2,478.7 305.5,481.1 305.8,479.5 306.1,480.5 306.4,482.3 306.7,481.6 307.0,480.4 307.3,480.2 307.6,480.4 307.9,480.1 308.2,482.4 308.5,483.4 308.8,481.0 309.1,479.6 309.4,479.5 309.7,479.7 310.0,479.0 310.3,480.1 310.6,480.0 310.9,482.3 311.2,482.2 311.5,477.7 311.8,480.9 312.1,479.9 312.4,476.7 312.7,477.5 313.0,477.9 313.3,478.6 313.6,480.3 313.9,476.7 314.2,481.0 314.5,481.3 314.8,479.2 315.1,480.0 315.4,479.3 315.7,478.6 316.0,480.7 316.3,480.0 316.6,481.4 316.9,479.7 317.2,481.4 317.5,478.9 317.8,479.0 318.1,479.2 318.4,479.6 318.7,478.9 319.0,479.1 319.3,481.7" fill="none" stroke="#37a935" stroke-width="2.0" stroke-linejoin="round" opacity="1.0"/>
<polyline points="47.5,636.3 47.8,635.9 48.1,635.4 48.4,636.1 48.7,636.5 49.0,636.7 49.3,637.3 49.6,640.8 49.9,636.2 50.2,637.6 50.5,636.9 50.8,639.1 51.1,636.3 51.4,636.3 51.7,636.2 52.0,637.4 52.3,635.4 52.6,635.0 52.9,635.9 53.2,634.9 53.5,635.1 53.8,638.5 54.1,636.0 54.4,635.5 54.7,640.8 55.0,636.0 55.3,634.8 55.6,635.9 55.9,635.6 56.2,636.7 56.5,635.8 56.8,634.0 57.1,637.8 57.4,636.5 57.7,635.7 58.0,637.7 58.3,636.6 58.6,636.9 58.9,636.7 59.2,636.7 59.5,641.6 59.8,636.5 60.1,635.3 60.4,636.5 60.7,635.7 61.0,636.0 61.3,635.0 61.6,636.3 61.9,637.7 62.2,637.9 62.5,635.9 62.8,636.2 63.1,636.8 63.4,636.1 63.7,637.5 64.0,639.8 64.3,636.3 64.6,637.0 64.9,635.6 65.2,635.1 65.5,634.7 65.8,636.2 66.1,636.9 66.4,636.0 66.7,637.1 67.0,635.5 67.3,635.7 67.6,635.8 67.9,636.1 68.2,639.7 68.5,635.6 68.8,639.1 69.1,637.4 69.4,638.0 69.7,639.8 70.0,640.7 70.3,641.9 70.6,640.0 70.9,640.6 71.2,640.4 71.5,642.2 71.8,642.6 72.1,640.8 72.4,642.1 72.7,640.4 73.0,640.7 73.3,641.3 73.6,643.5 73.9,643.0 74.2,643.4 74.5,641.5 74.8,642.5 75.1,642.1 75.4,641.9 75.7,643.3 76.0,642.2 76.3,646.1 76.6,641.9 76.9,642.2 77.2,642.6 77.5,641.7 77.8,642.7 78.1,643.5 78.4,640.9 78.7,645.9 79.0,642.2 79.3,642.4 79.6,641.8 79.9,642.4 80.2,645.9 80.5,644.3 80.8,642.6 81.1,644.3 81.4,642.3 81.7,643.1 82.0,640.6 82.3,641.6 82.6,640.4 82.9,643.7 83.2,640.0 83.5,640.8 83.8,643.5 84.1,643.4 84.4,642.0 84.7,642.7 85.0,641.6 85.3,641.7 85.6,642.5 85.9,643.1 86.2,642.8 86.5,644.2 86.8,643.5 87.1,642.7 87.4,642.7 87.7,643.7 88.0,642.6 88.3,641.7 88.6,641.2 88.9,643.4 89.2,642.0 89.5,643.6 89.8,643.5 90.1,644.1 90.4,641.4 90.7,642.4 91.0,641.2 91.3,642.2 91.6,642.0 91.9,643.1 92.2,643.0 92.5,642.4 92.8,642.7 93.1,641.9 93.4,641.9 93.7,643.9 94.0,642.2 94.3,643.0 94.6,642.9 94.9,641.5 95.2,641.5 95.5,643.8 95.8,641.9 96.1,642.1 96.4,642.8 96.7,644.1 97.0,642.7 97.3,641.7 97.6,642.4 97.9,642.0 98.2,642.7 98.5,643.2 98.8,643.8 99.1,644.4 99.4,644.4 99.7,645.1 100.0,645.0 100.3,644.5 100.6,641.5 100.9,642.6 101.2,643.8 101.5,644.1 101.8,640.7 102.1,641.6 102.4,644.0 102.7,643.9 103.0,642.8 103.3,642.2 103.6,642.5 103.9,642.7 104.2,642.0 104.5,642.4 104.8,643.3 105.1,645.5 105.4,643.7 105.7,643.9 106.0,642.0 106.3,642.1 106.6,643.3 106.9,641.8 107.2,644.1 107.5,643.1 107.8,643.5 108.1,644.1 108.4,642.7 108.7,642.4 109.0,642.1 109.3,643.5 109.6,644.2 109.9,645.1 110.2,642.1 110.5,642.3 110.8,643.3 111.1,642.3 111.4,642.0 111.7,641.0 112.0,641.0 112.3,643.0 112.6,643.6 112.9,641.7 113.2,642.9 113.5,641.7 113.8,640.8 114.1,643.1 114.4,643.7 114.7,641.3 115.0,643.1 115.3,642.7 115.6,641.9 115.9,644.2 116.2,643.1 116.5,643.9 116.8,643.7 117.1,642.2 117.4,641.0 117.7,641.8 118.0,643.3 118.3,641.3 118.6,644.7 118.9,643.1 119.2,641.6 119.5,642.8 119.8,642.3 120.1,644.3 120.4,642.6 120.7,642.3 121.0,643.3 121.3,642.2 121.6,643.4 121.9,643.1 122.2,643.1 122.5,644.7 122.8,643.4 123.1,643.1 123.4,642.4 123.7,642.5 124.0,641.1 124.3,642.8 124.6,643.5 124.9,643.6 125.2,642.6 125.5,642.3 125.8,642.2 126.1,643.3 126.4,642.2 126.7,641.8 127.0,640.5 127.3,642.7 127.6,642.2 127.9,641.5 128.2,641.4 128.5,644.0 128.8,640.9 129.1,643.6 129.4,645.1 129.7,643.3 130.0,642.4 130.3,643.9 130.6,642.0 130.9,642.3 131.2,643.0 131.5,641.5 131.8,643.5 132.1,641.3 132.4,643.9 132.7,641.2 133.0,643.4 133.3,644.4 133.6,644.5 133.9,644.0 134.2,642.1 134.5,641.9 134.8,643.5 135.1,641.5 135.4,642.1 135.7,642.4 136.0,642.1 136.3,644.0 136.6,642.2 136.9,641.6 137.2,645.2 137.5,642.7 137.8,643.5 138.1,643.2 138.4,643.0 138.7,643.5 139.0,645.4 139.3,643.9 139.6,642.7 139.9,643.0 140.2,643.6 140.5,642.1 140.8,643.4 141.1,643.4 141.4,644.7 141.7,642.4 142.0,642.4 142.3,644.2 142.6,641.5 142.9,642.0 143.2,643.1 143.5,641.9 143.8,641.4 144.1,642.4 144.4,645.2 144.7,643.7 145.0,642.7 145.3,641.7 145.6,644.4 145.9,642.0 146.2,642.6 146.5,642.4 146.8,642.4 147.1,642.1 147.4,641.9 147.7,642.3 148.0,642.0 148.3,643.1 148.6,641.4 148.9,642.9 149.2,641.3 149.5,642.6 149.8,642.9 150.1,645.0 150.4,643.1 150.7,644.5 151.0,641.7 151.3,644.1 151.6,642.6 151.9,643.3 152.2,642.4 152.5,643.3 152.8,643.2 153.1,642.5" fill="none" stroke="#c8102e" stroke-width="1.1" stroke-linejoin="round" opacity="1.0"/>
<polyline points="61.9,641.9 61.9,661.1" fill="none" stroke="#7fbf6f" stroke-width="1.2" stroke-linejoin="round" opacity="1.0"/>
<polyline points="65.2,641.9 65.2,658.9" fill="none" stroke="#c8102e" stroke-width="0.9" stroke-linejoin="round" opacity="1.0" stroke-dasharray="1.2,1"/>
<polyline points="47.5,634.6 47.8,634.2 48.1,633.6 48.4,634.7 48.7,633.5 49.0,633.4 49.3,635.4 49.6,630.8 49.9,629.5 50.2,631.7 50.5,634.5 50.8,632.1 51.1,636.3 51.4,627.1 51.7,630.3 52.0,631.1 52.3,632.0 52.6,634.4 52.9,630.9 53.2,630.8 53.5,633.1 53.8,634.6 54.1,626.8 54.4,633.3 54.7,632.8 55.0,630.1 55.3,630.9 55.6,632.8 55.9,632.3 56.2,632.3 56.5,629.5 56.8,633.4 57.1,630.9 57.4,632.0 57.7,630.9 58.0,632.4 58.3,633.7 58.6,632.8 58.9,634.3 59.2,630.5 59.5,632.2 59.8,631.6 60.1,630.5 60.4,632.2 60.7,627.5 61.0,632.4 61.3,632.0 61.6,628.8 61.9,632.9 62.2,631.6 62.5,634.0 62.8,630.1 63.1,632.9 63.4,630.7 63.7,632.2 64.0,632.8 64.3,633.7 64.6,628.6 64.9,631.8 65.2,631.1 65.5,630.5 65.8,635.3 66.1,633.5 66.4,631.7 66.7,631.2 67.0,634.8 67.3,632.8 67.6,633.3 67.9,630.8 68.2,634.3 68.5,637.5 68.8,635.4 69.1,636.3 69.4,639.1 69.7,637.5 70.0,639.2 70.3,636.8 70.6,638.5 70.9,634.5 71.2,635.2 71.5,635.2 71.8,640.5 72.1,637.9 72.4,637.5 72.7,636.7 73.0,635.6 73.3,632.9 73.6,641.2 73.9,637.2 74.2,636.9 74.5,633.9 74.8,637.0 75.1,638.4 75.4,636.9 75.7,638.5 76.0,635.8 76.3,638.1 76.6,638.6 76.9,638.5 77.2,638.7 77.5,638.6 77.8,636.1 78.1,638.0 78.4,637.4 78.7,636.6 79.0,639.7 79.3,634.7 79.6,636.9 79.9,639.0 80.2,638.8 80.5,637.3 80.8,637.1 81.1,638.1 81.4,636.8 81.7,636.8 82.0,639.1 82.3,638.2 82.6,637.8 82.9,640.0 83.2,638.5 83.5,636.5 83.8,637.6 84.1,640.8 84.4,638.0 84.7,638.2 85.0,637.4 85.3,639.5 85.6,636.6 85.9,639.3 86.2,639.7 86.5,637.1 86.8,637.5 87.1,636.5 87.4,639.0 87.7,636.8 88.0,637.7 88.3,638.2 88.6,638.0 88.9,638.2 89.2,640.8 89.5,636.1 89.8,637.9 90.1,638.8 90.4,636.5 90.7,637.4 91.0,639.0 91.3,641.4 91.6,641.0 91.9,638.4 92.2,640.0 92.5,638.6 92.8,638.1 93.1,636.1 93.4,635.7 93.7,638.5 94.0,641.7 94.3,639.9 94.6,635.4 94.9,638.0 95.2,638.1 95.5,639.0 95.8,636.9 96.1,640.7 96.4,639.3 96.7,639.7 97.0,639.2 97.3,635.4 97.6,637.7 97.9,641.1 98.2,638.4 98.5,640.4 98.8,638.8 99.1,637.6 99.4,638.7 99.7,640.6 100.0,641.0 100.3,641.7 100.6,637.5 100.9,640.7 101.2,636.3 101.5,638.6 101.8,638.6 102.1,639.6 102.4,639.4 102.7,643.1 103.0,638.5 103.3,640.2 103.6,638.6 103.9,639.0 104.2,636.9 104.5,639.8 104.8,640.3 105.1,641.0 105.4,640.1 105.7,639.2 106.0,640.1 106.3,640.1 106.6,640.1 106.9,642.3 107.2,638.1 107.5,643.5 107.8,633.9 108.1,641.2 108.4,637.8 108.7,641.5 109.0,638.4 109.3,641.7 109.6,638.4 109.9,637.5 110.2,639.6 110.5,641.8 110.8,638.3 111.1,643.3 111.4,638.6 111.7,642.1 112.0,638.9 112.3,638.0 112.6,639.2 112.9,637.8 113.2,640.4 113.5,636.0 113.8,639.4 114.1,638.2 114.4,637.0 114.7,638.8 115.0,638.8 115.3,637.9 115.6,641.4 115.9,640.7 116.2,640.4 116.5,642.3 116.8,639.7 117.1,640.5 117.4,637.8 117.7,640.0 118.0,640.8 118.3,638.7 118.6,637.3 118.9,638.0 119.2,638.0 119.5,640.8 119.8,639.8 120.1,639.3 120.4,640.2 120.7,640.2 121.0,642.5 121.3,638.1 121.6,640.2 121.9,640.8 122.2,638.9 122.5,641.5 122.8,639.2 123.1,639.8 123.4,640.9 123.7,637.2 124.0,638.2 124.3,637.8 124.6,639.9 124.9,638.1 125.2,640.5 125.5,638.1 125.8,638.4 126.1,640.2 126.4,640.2 126.7,640.1 127.0,639.8 127.3,641.6 127.6,641.7 127.9,640.1 128.2,638.8 128.5,638.2 128.8,642.6 129.1,638.4 129.4,638.4 129.7,639.9 130.0,641.4 130.3,637.4 130.6,639.7 130.9,638.9 131.2,638.7 131.5,642.5 131.8,640.0 132.1,638.8 132.4,639.1 132.7,640.0 133.0,639.0 133.3,638.0 133.6,637.9 133.9,643.6 134.2,638.2 134.5,642.1 134.8,638.1 135.1,642.4 135.4,641.5 135.7,640.4 136.0,643.1 136.3,638.7 136.6,639.4 136.9,638.9 137.2,638.2 137.5,639.0 137.8,638.6 138.1,639.6 138.4,642.1 138.7,637.0 139.0,638.9 139.3,638.4 139.6,640.6 139.9,642.3 140.2,641.6 140.5,639.4 140.8,640.6 141.1,643.8 141.4,638.2 141.7,638.6 142.0,639.8 142.3,639.6 142.6,639.5 142.9,639.1 143.2,637.8 143.5,639.9 143.8,639.7 144.1,639.5 144.4,638.0 144.7,642.3 145.0,640.3 145.3,643.0 145.6,638.7 145.9,640.8 146.2,640.4 146.5,641.1 146.8,639.2 147.1,639.8 147.4,636.7 147.7,640.1 148.0,641.6 148.3,636.8 148.6,638.7 148.9,641.7 149.2,641.4 149.5,639.4 149.8,640.0 150.1,642.3 150.4,641.8 150.7,639.5 151.0,639.0 151.3,641.1 151.6,641.0 151.9,640.1 152.2,638.7 152.5,639.9 152.8,639.6 153.1,639.6" fill="none" stroke="#37a935" stroke-width="1.8" stroke-linejoin="round" opacity="1.0"/>
<polyline points="213.8,648.0 214.1,646.1 214.4,647.5 214.7,644.0 215.0,642.4 215.3,647.7 215.6,643.2 215.9,644.2 216.2,642.6 216.5,645.9 216.8,641.5 217.1,645.8 217.4,646.3 217.7,646.5 218.0,645.6 218.3,645.0 218.6,644.3 218.9,648.8 219.2,644.4 219.5,645.4 219.8,643.9 220.1,643.6 220.4,646.0 220.7,643.3 221.0,645.2 221.3,643.3 221.6,643.9 221.9,644.8 222.2,643.5 222.5,644.2 222.8,643.4 223.1,647.5 223.4,644.1 223.7,643.5 224.0,645.3 224.3,645.0 224.6,642.3 224.9,643.9 225.2,647.1 225.5,646.4 225.8,649.4 226.1,644.6 226.4,641.9 226.7,642.9 227.0,645.8 227.3,641.9 227.6,643.3 227.9,645.8 228.2,644.8 228.5,645.1 228.8,645.0 229.1,644.2 229.4,643.3 229.7,643.9 230.0,643.3 230.3,644.7 230.6,645.4 230.9,642.7 231.2,644.5 231.5,644.0 231.8,646.2 232.1,646.8 232.4,646.1 232.7,646.4 233.0,645.6 233.3,645.3 233.6,643.5 233.9,648.0 234.2,643.7 234.5,649.6 234.8,646.0 235.1,646.9 235.4,644.3 235.7,649.3 236.0,648.2 236.3,645.1 236.6,646.5 236.9,646.9 237.2,646.1 237.5,649.1 237.8,653.2 238.1,646.0 238.4,648.9 238.7,647.2 239.0,649.0 239.3,643.8 239.6,646.4 239.9,649.4 240.2,646.3 240.5,650.4 240.8,647.2 241.1,649.4 241.4,648.3 241.7,647.3 242.0,646.7 242.3,648.2 242.6,649.3 242.9,647.5 243.2,646.5 243.5,654.2 243.8,646.2 244.1,647.8 244.4,648.7 244.7,646.5 245.0,647.9 245.3,647.3 245.6,646.8 245.9,650.3 246.2,646.9 246.5,648.1 246.8,649.4 247.1,646.3 247.4,647.5 247.7,649.2 248.0,649.6 248.3,649.2 248.6,647.8 248.9,646.1 249.2,649.2 249.5,648.4 249.8,647.1 250.1,647.1 250.4,649.6 250.7,646.1 251.0,648.8 251.3,647.5 251.6,645.7 251.9,650.1 252.2,649.7 252.5,648.6 252.8,645.8 253.1,648.4 253.4,648.7 253.7,647.6 254.0,650.1 254.3,645.8 254.6,648.9 254.9,645.1 255.2,645.8 255.5,646.0 255.8,649.3 256.1,647.2 256.4,648.0 256.7,647.3 257.0,645.6 257.3,647.6 257.6,646.8 257.9,647.1 258.2,647.2 258.5,644.9 258.8,647.1 259.1,649.8 259.4,648.5 259.7,648.8 260.0,646.9 260.3,646.7 260.6,647.4 260.9,645.5 261.2,647.6 261.5,645.9 261.8,648.3 262.1,645.4 262.4,648.9 262.7,648.8 263.0,645.5 263.3,648.4 263.6,647.7 263.9,649.5 264.2,646.8 264.5,646.9 264.8,649.8 265.1,650.6 265.4,645.1 265.7,649.2 266.0,648.2 266.3,647.1 266.6,647.5 266.9,649.6 267.2,649.1 267.5,650.8 267.8,648.9 268.1,645.6 268.4,647.6 268.7,647.9 269.0,647.2 269.3,649.7 269.6,651.9 269.9,649.3 270.2,644.8 270.5,651.2 270.8,646.5 271.1,648.3 271.4,649.5 271.7,648.5 272.0,647.9 272.3,648.4 272.6,649.5 272.9,648.5 273.2,651.8 273.5,643.3 273.8,648.1 274.1,646.9 274.4,651.1 274.7,648.3 275.0,650.5 275.3,647.8 275.6,648.5 275.9,649.3 276.2,648.9 276.5,647.5 276.8,649.3 277.1,650.3 277.4,646.0 277.7,650.0 278.0,648.2 278.3,647.1 278.6,648.3 278.9,648.2 279.2,649.5 279.5,645.9 279.8,649.2 280.1,646.5 280.4,648.1 280.7,649.7 281.0,647.5 281.3,648.6 281.6,646.8 281.9,649.1 282.2,646.5 282.5,648.0 282.8,647.8 283.1,647.7 283.4,646.4 283.7,648.9 284.0,647.3 284.3,648.4 284.6,644.8 284.9,644.8 285.2,646.7 285.5,647.9 285.8,648.1 286.1,648.7 286.4,650.1 286.7,649.9 287.0,649.3 287.3,646.7 287.6,648.9 287.9,648.0 288.2,649.9 288.5,647.3 288.8,651.8 289.1,649.0 289.4,646.9 289.7,646.4 290.0,648.7 290.3,647.3 290.6,649.4 290.9,648.2 291.2,647.2 291.5,649.8 291.8,650.2 292.1,646.1 292.4,648.1 292.7,648.1 293.0,648.4 293.3,647.2 293.6,650.8 293.9,648.3 294.2,647.7 294.5,646.6 294.8,649.5 295.1,645.9 295.4,649.7 295.7,648.1 296.0,646.0 296.3,651.5 296.6,647.2 296.9,647.6 297.2,646.5 297.5,649.5 297.8,648.8 298.1,647.5 298.4,646.2 298.7,646.9 299.0,648.1 299.3,647.3 299.6,644.4 299.9,646.3 300.2,647.9 300.5,651.9 300.8,648.4 301.1,644.4 301.4,648.2 301.7,646.5 302.0,645.3 302.3,648.1 302.6,647.3 302.9,647.8 303.2,645.9 303.5,647.6 303.8,647.4 304.1,646.4 304.4,650.2 304.7,645.4 305.0,649.6 305.3,648.6 305.6,647.3 305.9,647.5 306.2,647.0 306.5,648.6 306.8,651.9 307.1,647.1 307.4,649.2 307.7,646.1 308.0,647.2 308.3,648.8 308.6,646.6 308.9,648.0 309.2,644.3 309.5,645.9 309.8,647.6 310.1,648.5 310.4,648.1 310.7,646.2 311.0,647.5 311.3,647.3 311.6,645.3 311.9,649.1 312.2,649.4 312.5,649.6 312.8,646.4 313.1,646.6 313.4,647.4 313.7,646.7 314.0,647.1 314.3,648.5 314.6,647.8 314.9,645.5 315.2,648.1 315.5,649.2 315.8,646.8 316.1,647.4 316.4,648.3 316.7,645.3 317.0,649.1 317.3,647.9 317.6,652.2 317.9,648.6 318.2,647.3 318.5,646.6 318.8,647.7 319.1,647.9 319.4,646.0" fill="none" stroke="#c8102e" stroke-width="1.9" stroke-linejoin="round" opacity="1.0"/>
<polyline points="233.2,641.9 233.2,661.1" fill="none" stroke="#37a935" stroke-width="1.1" stroke-linejoin="round" opacity="1.0"/>
<polyline points="235.2,641.9 235.2,661.1" fill="none" stroke="#c8102e" stroke-width="1.1" stroke-linejoin="round" opacity="1.0"/>
<polyline points="213.8,636.6 214.1,635.6 214.4,635.1 214.7,636.2 215.0,636.9 215.3,636.6 215.6,635.7 215.9,637.7 216.2,641.3 216.5,635.3 216.8,637.6 217.1,634.0 217.4,637.4 217.7,634.7 218.0,636.1 218.3,637.5 218.6,635.4 218.9,638.3 219.2,634.7 219.5,636.0 219.8,637.6 220.1,636.4 220.4,635.1 220.7,635.4 221.0,638.7 221.3,639.5 221.6,637.6 221.9,639.6 222.2,638.3 222.5,635.6 222.8,635.5 223.1,635.5 223.4,635.2 223.7,631.5 224.0,640.9 224.3,637.4 224.6,640.9 224.9,634.6 225.2,638.3 225.5,637.8 225.8,635.7 226.1,637.9 226.4,635.9 226.7,636.0 227.0,636.2 227.3,632.1 227.6,635.1 227.9,634.8 228.2,639.7 228.5,637.0 228.8,636.4 229.1,638.0 229.4,635.8 229.7,640.1 230.0,635.6 230.3,632.5 230.6,637.1 230.9,637.6 231.2,637.7 231.5,636.0 231.8,637.6 232.1,638.7 232.4,638.5 232.7,640.1 233.0,635.7 233.3,641.1 233.6,634.0 233.9,637.9 234.2,637.1 234.5,636.6 234.8,633.2 235.1,637.7 235.4,635.7 235.7,634.5 236.0,635.5 236.3,636.0 236.6,636.2 236.9,634.8 237.2,634.8 237.5,637.0 237.8,635.3 238.1,639.5 238.4,636.5 238.7,636.7 239.0,640.7 239.3,635.8 239.6,636.7 239.9,636.9 240.2,636.7 240.5,640.2 240.8,634.8 241.1,635.6 241.4,632.7 241.7,636.2 242.0,638.1 242.3,633.8 242.6,637.7 242.9,636.0 243.2,637.4 243.5,635.6 243.8,635.1 244.1,638.6 244.4,635.9 244.7,637.5 245.0,637.2 245.3,637.1 245.6,636.1 245.9,634.5 246.2,637.5 246.5,637.8 246.8,636.7 247.1,637.4 247.4,639.4 247.7,634.2 248.0,635.1 248.3,636.2 248.6,634.2 248.9,634.0 249.2,637.2 249.5,636.8 249.8,636.9 250.1,633.3 250.4,635.6 250.7,636.5 251.0,637.6 251.3,639.0 251.6,637.8 251.9,638.4 252.2,638.1 252.5,631.5 252.8,638.5 253.1,636.1 253.4,637.0 253.7,637.4 254.0,634.4 254.3,634.0 254.6,636.2 254.9,637.2 255.2,635.8 255.5,635.6 255.8,639.1 256.1,634.9 256.4,640.4 256.7,634.2 257.0,638.1 257.3,639.0 257.6,634.8 257.9,634.7 258.2,637.8 258.5,640.3 258.8,639.7 259.1,637.3 259.4,638.3 259.7,634.0 260.0,635.3 260.3,638.8 260.6,634.2 260.9,636.4 261.2,633.8 261.5,636.6 261.8,633.8 262.1,637.6 262.4,638.2 262.7,636.2 263.0,636.8 263.3,634.9 263.6,636.2 263.9,634.6 264.2,635.9 264.5,640.3 264.8,634.1 265.1,635.8 265.4,633.7 265.7,639.3 266.0,635.9 266.3,634.3 266.6,634.1 266.9,638.9 267.2,637.8 267.5,638.8 267.8,636.3 268.1,638.4 268.4,637.3 268.7,638.5 269.0,633.4 269.3,633.1 269.6,635.1 269.9,637.7 270.2,634.1 270.5,634.4 270.8,637.3 271.1,634.2 271.4,633.9 271.7,638.3 272.0,637.9 272.3,638.1 272.6,639.4 272.9,639.6 273.2,637.9 273.5,636.6 273.8,633.1 274.1,636.3 274.4,635.7 274.7,639.2 275.0,637.7 275.3,638.6 275.6,638.8 275.9,639.5 276.2,638.5 276.5,636.3 276.8,636.3 277.1,636.7 277.4,635.6 277.7,637.3 278.0,637.0 278.3,633.6 278.6,631.9 278.9,636.0 279.2,636.2 279.5,636.8 279.8,640.5 280.1,636.6 280.4,635.0 280.7,637.0 281.0,637.7 281.3,639.7 281.6,636.1 281.9,636.5 282.2,636.9 282.5,640.5 282.8,638.3 283.1,635.0 283.4,637.5 283.7,636.7 284.0,637.3 284.3,637.1 284.6,636.7 284.9,636.8 285.2,638.0 285.5,637.5 285.8,639.9 286.1,638.9 286.4,637.4 286.7,634.9 287.0,634.9 287.3,636.3 287.6,635.7 287.9,635.5 288.2,636.0 288.5,635.1 288.8,633.8 289.1,636.6 289.4,636.9 289.7,635.9 290.0,635.8 290.3,636.8 290.6,637.4 290.9,635.1 291.2,634.1 291.5,635.4 291.8,638.4 292.1,635.1 292.4,639.2 292.7,635.5 293.0,636.6 293.3,635.9 293.6,638.0 293.9,637.2 294.2,636.6 294.5,632.6 294.8,638.0 295.1,635.9 295.4,636.9 295.7,638.5 296.0,637.0 296.3,641.1 296.6,639.5 296.9,638.7 297.2,635.9 297.5,639.8 297.8,639.0 298.1,637.9 298.4,635.7 298.7,638.3 299.0,635.5 299.3,637.8 299.6,638.4 299.9,638.2 300.2,641.2 300.5,639.1 300.8,634.3 301.1,635.4 301.4,638.9 301.7,641.5 302.0,636.4 302.3,634.4 302.6,640.5 302.9,636.2 303.2,638.4 303.5,639.3 303.8,635.2 304.1,637.4 304.4,638.2 304.7,639.2 305.0,639.0 305.3,637.7 305.6,638.7 305.9,634.5 306.2,639.6 306.5,638.6 306.8,638.4 307.1,635.5 307.4,637.9 307.7,635.2 308.0,640.5 308.3,637.8 308.6,637.9 308.9,638.2 309.2,639.1 309.5,638.8 309.8,638.3 310.1,636.2 310.4,640.8 310.7,636.3 311.0,639.3 311.3,638.0 311.6,639.2 311.9,637.9 312.2,635.5 312.5,636.3 312.8,638.4 313.1,641.2 313.4,636.4 313.7,638.3 314.0,637.4 314.3,637.6 314.6,638.8 314.9,638.6 315.2,636.1 315.5,639.1 315.8,640.4 316.1,641.1 316.4,637.7 316.7,641.7 317.0,638.4 317.3,637.8 317.6,635.9 317.9,637.5 318.2,639.9 318.5,633.4 318.8,637.8 319.1,634.8 319.4,638.1" fill="none" stroke="#37a935" stroke-width="2.0" stroke-linejoin="round" opacity="1.0"/>
<line x1="386.90" y1="412.70" x2="386.90" y2="494.40" stroke="#231f20" stroke-width="1.3"/>
<line x1="384.90" y1="489.50" x2="386.90" y2="489.50" stroke="#231f20" stroke-width="0.8"/>
<text x="381.30" y="491.80" font-size="6.8" text-anchor="end" font-weight="normal" fill="#231f20" stroke="#231f20" stroke-width="0.1" textLength="18.119999999999997" lengthAdjust="spacingAndGlyphs">–2000</text>
<line x1="384.90" y1="465.90" x2="386.90" y2="465.90" stroke="#231f20" stroke-width="0.8"/>
<text x="381.30" y="468.20" font-size="6.8" text-anchor="end" font-weight="normal" fill="#231f20" stroke="#231f20" stroke-width="0.1" textLength="3.78" lengthAdjust="spacingAndGlyphs">0</text>
<line x1="384.90" y1="442.30" x2="386.90" y2="442.30" stroke="#231f20" stroke-width="0.8"/>
<text x="381.30" y="444.60" font-size="6.8" text-anchor="end" font-weight="normal" fill="#231f20" stroke="#231f20" stroke-width="0.1" textLength="15.12" lengthAdjust="spacingAndGlyphs">2000</text>
<line x1="384.90" y1="418.70" x2="386.90" y2="418.70" stroke="#231f20" stroke-width="0.8"/>
<text x="381.30" y="421.00" font-size="6.8" text-anchor="end" font-weight="normal" fill="#231f20" stroke="#231f20" stroke-width="0.1" textLength="15.12" lengthAdjust="spacingAndGlyphs">4000</text>
<line x1="386.90" y1="465.90" x2="512.70" y2="465.90" stroke="#231f20" stroke-width="1.3"/>
<line x1="386.90" y1="494.40" x2="511.50" y2="494.40" stroke="#231f20" stroke-width="1.3"/>
<line x1="395.00" y1="413.09" x2="395.00" y2="421.10" stroke="#37a935" stroke-width="0.8"/>
<line x1="392.80" y1="413.09" x2="397.20" y2="413.09" stroke="#37a935" stroke-width="0.8"/>
<rect x="391.00" y="421.10" width="8.00" height="44.80" fill="#37a935"/>
<line x1="407.00" y1="436.20" x2="407.00" y2="444.80" stroke="#c8102e" stroke-width="0.8"/>
<line x1="404.80" y1="436.20" x2="409.20" y2="436.20" stroke="#c8102e" stroke-width="0.8"/>
<rect x="403.00" y="444.80" width="8.00" height="21.10" fill="#c8102e"/>
<line x1="401.00" y1="494.40" x2="401.00" y2="496.70" stroke="#231f20" stroke-width="0.8"/>
<text x="400.60" y="502.90" font-size="6.4" text-anchor="end" font-weight="normal" fill="#231f20" stroke="#231f20" stroke-width="0.1" textLength="18.5" lengthAdjust="spacingAndGlyphs" transform="rotate(-45 400.6 502.9)">No Inh</text>
<line x1="426.30" y1="447.02" x2="426.30" y2="452.11" stroke="#37a935" stroke-width="0.8"/>
<line x1="424.10" y1="447.02" x2="428.50" y2="447.02" stroke="#37a935" stroke-width="0.8"/>
<rect x="422.30" y="452.11" width="8.00" height="13.79" fill="#37a935"/>
<line x1="438.30" y1="493.04" x2="438.30" y2="489.70" stroke="#c8102e" stroke-width="0.8"/>
<line x1="436.10" y1="493.04" x2="440.50" y2="493.04" stroke="#c8102e" stroke-width="0.8"/>
<rect x="434.30" y="465.90" width="8.00" height="23.80" fill="#c8102e"/>
<line x1="432.30" y1="494.40" x2="432.30" y2="496.70" stroke="#231f20" stroke-width="0.8"/>
<text x="431.90" y="502.90" font-size="6.4" text-anchor="end" font-weight="normal" fill="#231f20" stroke="#231f20" stroke-width="0.1" textLength="22.5" lengthAdjust="spacingAndGlyphs" transform="rotate(-45 431.90000000000003 502.9)">Apyrase</text>
<line x1="457.80" y1="454.30" x2="457.80" y2="456.70" stroke="#37a935" stroke-width="0.8"/>
<line x1="455.60" y1="454.30" x2="460.00" y2="454.30" stroke="#37a935" stroke-width="0.8"/>
<rect x="453.80" y="456.70" width="8.00" height="9.20" fill="#37a935"/>
<line x1="469.80" y1="458.58" x2="469.80" y2="459.50" stroke="#c8102e" stroke-width="0.8"/>
<line x1="467.60" y1="458.58" x2="472.00" y2="458.58" stroke="#c8102e" stroke-width="0.8"/>
<rect x="465.80" y="459.50" width="8.00" height="6.40" fill="#c8102e"/>
<line x1="463.80" y1="494.40" x2="463.80" y2="496.70" stroke="#231f20" stroke-width="0.8"/>
<text x="463.40" y="502.90" font-size="6.4" text-anchor="end" font-weight="normal" fill="#231f20" stroke="#231f20" stroke-width="0.1" textLength="19.5" lengthAdjust="spacingAndGlyphs" transform="rotate(-45 463.40000000000003 502.9)">Aspirin</text>
<line x1="489.40" y1="457.20" x2="489.40" y2="459.80" stroke="#37a935" stroke-width="0.8"/>
<line x1="487.20" y1="457.20" x2="491.60" y2="457.20" stroke="#37a935" stroke-width="0.8"/>
<rect x="485.40" y="459.80" width="8.00" height="6.10" fill="#37a935"/>
<line x1="501.40" y1="457.29" x2="501.40" y2="458.10" stroke="#c8102e" stroke-width="0.8"/>
<line x1="499.20" y1="457.29" x2="503.60" y2="457.29" stroke="#c8102e" stroke-width="0.8"/>
<rect x="497.40" y="458.10" width="8.00" height="7.80" fill="#c8102e"/>
<line x1="495.40" y1="494.40" x2="495.40" y2="496.70" stroke="#231f20" stroke-width="0.8"/>
<text x="495.00" y="502.90" font-size="6.4" text-anchor="end" font-weight="normal" fill="#231f20" stroke="#231f20" stroke-width="0.1" textLength="47" lengthAdjust="spacingAndGlyphs" transform="rotate(-45 495.0 502.9)">Apyrase + Aspirin</text>
<circle cx="407" cy="431.8" r="0.95" fill="#231f20"/>
<circle cx="438.3" cy="457.5" r="0.95" fill="#231f20"/>
<text x="357.20" y="454.70" font-size="6.6" text-anchor="middle" font-weight="normal" fill="#231f20" stroke="#231f20" stroke-width="0.25" textLength="49" lengthAdjust="spacingAndGlyphs" transform="rotate(-90 357.2 454.7)">AUC (percent-sec)</text>
<line x1="382.00" y1="567.30" x2="382.00" y2="642.00" stroke="#231f20" stroke-width="1.3"/>
<line x1="380.00" y1="642.00" x2="382.00" y2="642.00" stroke="#231f20" stroke-width="0.8"/>
<text x="377.40" y="644.20" font-size="6.5" text-anchor="end" font-weight="normal" fill="#231f20" stroke="#231f20" stroke-width="0.1">0</text>
<line x1="380.00" y1="618.00" x2="382.00" y2="618.00" stroke="#231f20" stroke-width="0.8"/>
<text x="377.40" y="620.20" font-size="6.5" text-anchor="end" font-weight="normal" fill="#231f20" stroke="#231f20" stroke-width="0.1">50</text>
<line x1="380.00" y1="594.00" x2="382.00" y2="594.00" stroke="#231f20" stroke-width="0.8"/>
<text x="377.40" y="596.20" font-size="6.5" text-anchor="end" font-weight="normal" fill="#231f20" stroke="#231f20" stroke-width="0.1">100</text>
<line x1="380.00" y1="570.00" x2="382.00" y2="570.00" stroke="#231f20" stroke-width="0.8"/>
<text x="377.40" y="572.20" font-size="6.5" text-anchor="end" font-weight="normal" fill="#231f20" stroke="#231f20" stroke-width="0.1">150</text>
<line x1="382.00" y1="642.00" x2="447.00" y2="642.00" stroke="#231f20" stroke-width="1.3"/>
<line x1="400.90" y1="578.16" x2="400.90" y2="595.92" stroke="#37a935" stroke-width="1.0"/>
<line x1="396.00" y1="578.16" x2="405.80" y2="578.16" stroke="#37a935" stroke-width="1.0"/>
<rect x="391.80" y="595.92" width="18.20" height="46.08" fill="#37a935"/>
<line x1="400.90" y1="642.00" x2="400.90" y2="644.00" stroke="#231f20" stroke-width="0.8"/>
<line x1="428.30" y1="625.20" x2="428.30" y2="634.80" stroke="#c8102e" stroke-width="1.0"/>
<line x1="424.20" y1="625.20" x2="432.40" y2="625.20" stroke="#c8102e" stroke-width="1.0"/>
<rect x="419.20" y="634.80" width="18.20" height="7.20" fill="#c8102e"/>
<line x1="428.30" y1="642.00" x2="428.30" y2="644.00" stroke="#231f20" stroke-width="0.8"/>
<text x="400.60" y="652.50" font-size="6.4" text-anchor="end" font-weight="normal" fill="#231f20" stroke="#231f20" stroke-width="0.1" textLength="19.5" lengthAdjust="spacingAndGlyphs" transform="rotate(-45 400.6 652.5)">Vehicle</text>
<text x="428.40" y="652.50" font-size="6.4" text-anchor="end" font-weight="normal" fill="#231f20" stroke="#231f20" stroke-width="0.1" textLength="27" lengthAdjust="spacingAndGlyphs" transform="rotate(-45 428.4 652.5)">Puromycin</text>
<text x="424.6" y="611.8" font-size="6.8" fill="#231f20" stroke="#231f20" stroke-width="0.15" textLength="19.8" lengthAdjust="spacingAndGlyphs"><tspan font-style="italic">P</tspan> &lt; .05</text>
<text x="359.00" y="602.70" font-size="6.8" text-anchor="middle" font-weight="normal" fill="#231f20" stroke="#231f20" stroke-width="0.25" textLength="29.5" lengthAdjust="spacingAndGlyphs" transform="rotate(-90 359.0 602.7)">TxB2 (pg/ml)</text></svg></body></html>
